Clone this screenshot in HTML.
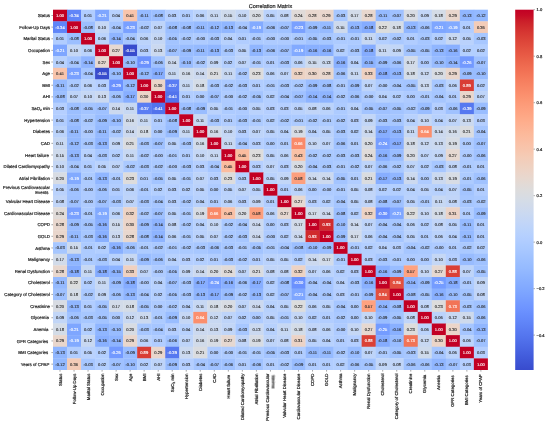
<!DOCTYPE html>
<html lang="en"><head><meta charset="utf-8"><title>Correlation Matrix</title>
<style>html,body{margin:0;padding:0;background:#fff}body{width:550px;height:425px;overflow:hidden}svg{display:block}text{font-family:"Liberation Sans",sans-serif;text-rendering:geometricPrecision;paint-order:stroke}.k{fill:#262626;stroke:#262626}.w{fill:#fff;stroke:#fff}</style>
</head><body>
<svg width="550" height="425" viewBox="0 0 5500 4250">
<rect width="5500" height="4250" fill="#ffffff"/>
<defs><filter id="bl" x="0" y="0" width="5500" height="4250" filterUnits="userSpaceOnUse"><feGaussianBlur stdDeviation="3"/></filter><filter id="bl2" x="0" y="0" width="5500" height="4250" filterUnits="userSpaceOnUse"><feGaussianBlur stdDeviation="2.5"/></filter></defs>
<text class="k" x="2704.5" y="76" font-size="55" stroke-width="2" text-anchor="middle">Correlation Matrix</text>
<g>
<rect x="530" y="97" width="143.3" height="119.2" fill="#c20024"/>
<rect x="670.3" y="97" width="143.3" height="119.2" fill="#6085f8"/>
<rect x="810.6" y="97" width="143.3" height="119.2" fill="#b1cdff"/>
<rect x="950.9" y="97" width="143.3" height="119.2" fill="#7ea6ff"/>
<rect x="1091.2" y="97" width="143.3" height="119.2" fill="#b7d1fd"/>
<rect x="1231.5" y="97" width="143.3" height="119.2" fill="#f8c4ab"/>
<rect x="1371.7" y="97" width="143.3" height="119.2" fill="#95baff"/>
<rect x="1512" y="97" width="143.3" height="119.2" fill="#9cbfff"/>
<rect x="1652.3" y="97" width="143.3" height="119.2" fill="#b5cfff"/>
<rect x="1792.6" y="97" width="143.3" height="119.2" fill="#b1cdff"/>
<rect x="1932.9" y="97" width="143.3" height="119.2" fill="#bbd3fb"/>
<rect x="2073.2" y="97" width="143.3" height="119.2" fill="#c7d8f3"/>
<rect x="2213.5" y="97" width="143.3" height="119.2" fill="#cedaec"/>
<rect x="2353.8" y="97" width="143.3" height="119.2" fill="#c5d7f5"/>
<rect x="2494.1" y="97" width="143.3" height="119.2" fill="#d8dce3"/>
<rect x="2634.4" y="97" width="143.3" height="119.2" fill="#bad2fc"/>
<rect x="2774.6" y="97" width="143.3" height="119.2" fill="#c1d5f8"/>
<rect x="2914.9" y="97" width="143.3" height="119.2" fill="#e0dbd9"/>
<rect x="3055.2" y="97" width="143.3" height="119.2" fill="#e8d7ce"/>
<rect x="3195.5" y="97" width="143.3" height="119.2" fill="#e9d6cc"/>
<rect x="3335.8" y="97" width="143.3" height="119.2" fill="#a7c7ff"/>
<rect x="3476.1" y="97" width="143.3" height="119.2" fill="#d2dbe9"/>
<rect x="3616.4" y="97" width="143.3" height="119.2" fill="#e8d7ce"/>
<rect x="3756.7" y="97" width="143.3" height="119.2" fill="#95baff"/>
<rect x="3897" y="97" width="143.3" height="119.2" fill="#9fc1ff"/>
<rect x="4037.3" y="97" width="143.3" height="119.2" fill="#d8dce3"/>
<rect x="4177.5" y="97" width="143.3" height="119.2" fill="#c2d6f7"/>
<rect x="4317.8" y="97" width="143.3" height="119.2" fill="#d4dce7"/>
<rect x="4458.1" y="97" width="143.3" height="119.2" fill="#e9d6cc"/>
<rect x="4598.4" y="97" width="143.3" height="119.2" fill="#90b6ff"/>
<rect x="4738.7" y="97" width="140.3" height="119.2" fill="#93b9ff"/>
<rect x="530" y="213.2" width="143.3" height="119.2" fill="#6085f8"/>
<rect x="670.3" y="213.2" width="143.3" height="119.2" fill="#c20024"/>
<rect x="810.6" y="213.2" width="143.3" height="119.2" fill="#9cbfff"/>
<rect x="950.9" y="213.2" width="143.3" height="119.2" fill="#c5d7f5"/>
<rect x="1091.2" y="213.2" width="143.3" height="119.2" fill="#a6c6ff"/>
<rect x="1231.5" y="213.2" width="143.3" height="119.2" fill="#79a0ff"/>
<rect x="1371.7" y="213.2" width="143.3" height="119.2" fill="#aac9ff"/>
<rect x="1512" y="213.2" width="143.3" height="119.2" fill="#bed4f9"/>
<rect x="1652.3" y="213.2" width="143.3" height="119.2" fill="#9cbfff"/>
<rect x="1792.6" y="213.2" width="143.3" height="119.2" fill="#9cbfff"/>
<rect x="1932.9" y="213.2" width="143.3" height="119.2" fill="#95baff"/>
<rect x="2073.2" y="213.2" width="143.3" height="119.2" fill="#93b9ff"/>
<rect x="2213.5" y="213.2" width="143.3" height="119.2" fill="#90b6ff"/>
<rect x="2353.8" y="213.2" width="143.3" height="119.2" fill="#a6c6ff"/>
<rect x="2494.1" y="213.2" width="143.3" height="119.2" fill="#82aaff"/>
<rect x="2634.4" y="213.2" width="143.3" height="119.2" fill="#a0c2ff"/>
<rect x="2774.6" y="213.2" width="143.3" height="119.2" fill="#9fc1ff"/>
<rect x="2914.9" y="213.2" width="143.3" height="119.2" fill="#79a0ff"/>
<rect x="3055.2" y="213.2" width="143.3" height="119.2" fill="#99bdff"/>
<rect x="3195.5" y="213.2" width="143.3" height="119.2" fill="#95baff"/>
<rect x="3335.8" y="213.2" width="143.3" height="119.2" fill="#cedaec"/>
<rect x="3476.1" y="213.2" width="143.3" height="119.2" fill="#90b6ff"/>
<rect x="3616.4" y="213.2" width="143.3" height="119.2" fill="#85acff"/>
<rect x="3756.7" y="213.2" width="143.3" height="119.2" fill="#dcdddd"/>
<rect x="3897" y="213.2" width="143.3" height="119.2" fill="#d4dce7"/>
<rect x="4037.3" y="213.2" width="143.3" height="119.2" fill="#90b6ff"/>
<rect x="4177.5" y="213.2" width="143.3" height="119.2" fill="#a0c2ff"/>
<rect x="4317.8" y="213.2" width="143.3" height="119.2" fill="#7ea6ff"/>
<rect x="4458.1" y="213.2" width="143.3" height="119.2" fill="#82aaff"/>
<rect x="4598.4" y="213.2" width="143.3" height="119.2" fill="#b1cdff"/>
<rect x="4738.7" y="213.2" width="140.3" height="119.2" fill="#f3ccb8"/>
<rect x="530" y="329.5" width="143.3" height="119.2" fill="#b1cdff"/>
<rect x="670.3" y="329.5" width="143.3" height="119.2" fill="#9cbfff"/>
<rect x="810.6" y="329.5" width="143.3" height="119.2" fill="#c20024"/>
<rect x="950.9" y="329.5" width="143.3" height="119.2" fill="#bbd3fb"/>
<rect x="1091.2" y="329.5" width="143.3" height="119.2" fill="#8eb4ff"/>
<rect x="1231.5" y="329.5" width="143.3" height="119.2" fill="#a6c6ff"/>
<rect x="1371.7" y="329.5" width="143.3" height="119.2" fill="#bbd3fb"/>
<rect x="1512" y="329.5" width="143.3" height="119.2" fill="#c5d7f5"/>
<rect x="1652.3" y="329.5" width="143.3" height="119.2" fill="#a3c4ff"/>
<rect x="1792.6" y="329.5" width="143.3" height="119.2" fill="#aac9ff"/>
<rect x="1932.9" y="329.5" width="143.3" height="119.2" fill="#aecbff"/>
<rect x="2073.2" y="329.5" width="143.3" height="119.2" fill="#a7c7ff"/>
<rect x="2213.5" y="329.5" width="143.3" height="119.2" fill="#b7d1fd"/>
<rect x="2353.8" y="329.5" width="143.3" height="119.2" fill="#b1cdff"/>
<rect x="2494.1" y="329.5" width="143.3" height="119.2" fill="#adcbff"/>
<rect x="2634.4" y="329.5" width="143.3" height="119.2" fill="#aecbff"/>
<rect x="2774.6" y="329.5" width="143.3" height="119.2" fill="#aecbff"/>
<rect x="2914.9" y="329.5" width="143.3" height="119.2" fill="#adcbff"/>
<rect x="3055.2" y="329.5" width="143.3" height="119.2" fill="#a3c4ff"/>
<rect x="3195.5" y="329.5" width="143.3" height="119.2" fill="#a7c7ff"/>
<rect x="3335.8" y="329.5" width="143.3" height="119.2" fill="#adcbff"/>
<rect x="3476.1" y="329.5" width="143.3" height="119.2" fill="#adcbff"/>
<rect x="3616.4" y="329.5" width="143.3" height="119.2" fill="#c7d8f3"/>
<rect x="3756.7" y="329.5" width="143.3" height="119.2" fill="#b3cfff"/>
<rect x="3897" y="329.5" width="143.3" height="119.2" fill="#aac9ff"/>
<rect x="4037.3" y="329.5" width="143.3" height="119.2" fill="#b1cdff"/>
<rect x="4177.5" y="329.5" width="143.3" height="119.2" fill="#a7c7ff"/>
<rect x="4317.8" y="329.5" width="143.3" height="119.2" fill="#b3cfff"/>
<rect x="4458.1" y="329.5" width="143.3" height="119.2" fill="#c8d8f2"/>
<rect x="4598.4" y="329.5" width="143.3" height="119.2" fill="#bad2fc"/>
<rect x="4738.7" y="329.5" width="140.3" height="119.2" fill="#a7c7ff"/>
<rect x="530" y="445.7" width="143.3" height="119.2" fill="#7ea6ff"/>
<rect x="670.3" y="445.7" width="143.3" height="119.2" fill="#c5d7f5"/>
<rect x="810.6" y="445.7" width="143.3" height="119.2" fill="#bbd3fb"/>
<rect x="950.9" y="445.7" width="143.3" height="119.2" fill="#c20024"/>
<rect x="1091.2" y="445.7" width="143.3" height="119.2" fill="#e6d8d1"/>
<rect x="1231.5" y="445.7" width="143.3" height="119.2" fill="#384bcd"/>
<rect x="1371.7" y="445.7" width="143.3" height="119.2" fill="#b5cfff"/>
<rect x="1512" y="445.7" width="143.3" height="119.2" fill="#cbd9f0"/>
<rect x="1652.3" y="445.7" width="143.3" height="119.2" fill="#9fc1ff"/>
<rect x="1792.6" y="445.7" width="143.3" height="119.2" fill="#99bdff"/>
<rect x="1932.9" y="445.7" width="143.3" height="119.2" fill="#95baff"/>
<rect x="2073.2" y="445.7" width="143.3" height="119.2" fill="#90b6ff"/>
<rect x="2213.5" y="445.7" width="143.3" height="119.2" fill="#a7c7ff"/>
<rect x="2353.8" y="445.7" width="143.3" height="119.2" fill="#bad2fc"/>
<rect x="2494.1" y="445.7" width="143.3" height="119.2" fill="#90b6ff"/>
<rect x="2634.4" y="445.7" width="143.3" height="119.2" fill="#a0c2ff"/>
<rect x="2774.6" y="445.7" width="143.3" height="119.2" fill="#9fc1ff"/>
<rect x="2914.9" y="445.7" width="143.3" height="119.2" fill="#82aaff"/>
<rect x="3055.2" y="445.7" width="143.3" height="119.2" fill="#89b0ff"/>
<rect x="3195.5" y="445.7" width="143.3" height="119.2" fill="#89b0ff"/>
<rect x="3335.8" y="445.7" width="143.3" height="119.2" fill="#b3cfff"/>
<rect x="3476.1" y="445.7" width="143.3" height="119.2" fill="#a7c7ff"/>
<rect x="3616.4" y="445.7" width="143.3" height="119.2" fill="#85acff"/>
<rect x="3756.7" y="445.7" width="143.3" height="119.2" fill="#c7d8f3"/>
<rect x="3897" y="445.7" width="143.3" height="119.2" fill="#c2d6f7"/>
<rect x="4037.3" y="445.7" width="143.3" height="119.2" fill="#a3c4ff"/>
<rect x="4177.5" y="445.7" width="143.3" height="119.2" fill="#a3c4ff"/>
<rect x="4317.8" y="445.7" width="143.3" height="119.2" fill="#90b6ff"/>
<rect x="4458.1" y="445.7" width="143.3" height="119.2" fill="#89b0ff"/>
<rect x="4598.4" y="445.7" width="143.3" height="119.2" fill="#b3cfff"/>
<rect x="4738.7" y="445.7" width="140.3" height="119.2" fill="#b3cfff"/>
<rect x="530" y="561.9" width="143.3" height="119.2" fill="#b7d1fd"/>
<rect x="670.3" y="561.9" width="143.3" height="119.2" fill="#a6c6ff"/>
<rect x="810.6" y="561.9" width="143.3" height="119.2" fill="#8eb4ff"/>
<rect x="950.9" y="561.9" width="143.3" height="119.2" fill="#e6d8d1"/>
<rect x="1091.2" y="561.9" width="143.3" height="119.2" fill="#c20024"/>
<rect x="1231.5" y="561.9" width="143.3" height="119.2" fill="#98bcff"/>
<rect x="1371.7" y="561.9" width="143.3" height="119.2" fill="#6b91fe"/>
<rect x="1512" y="561.9" width="143.3" height="119.2" fill="#a0c2ff"/>
<rect x="1652.3" y="561.9" width="143.3" height="119.2" fill="#ccd9ef"/>
<rect x="1792.6" y="561.9" width="143.3" height="119.2" fill="#98bcff"/>
<rect x="1932.9" y="561.9" width="143.3" height="119.2" fill="#aac9ff"/>
<rect x="2073.2" y="561.9" width="143.3" height="119.2" fill="#c2d6f7"/>
<rect x="2213.5" y="561.9" width="143.3" height="119.2" fill="#b3cfff"/>
<rect x="2353.8" y="561.9" width="143.3" height="119.2" fill="#bed4f9"/>
<rect x="2494.1" y="561.9" width="143.3" height="119.2" fill="#adcbff"/>
<rect x="2634.4" y="561.9" width="143.3" height="119.2" fill="#b1cdff"/>
<rect x="2774.6" y="561.9" width="143.3" height="119.2" fill="#a7c7ff"/>
<rect x="2914.9" y="561.9" width="143.3" height="119.2" fill="#bbd3fb"/>
<rect x="3055.2" y="561.9" width="143.3" height="119.2" fill="#cedaec"/>
<rect x="3195.5" y="561.9" width="143.3" height="119.2" fill="#cbd9f0"/>
<rect x="3335.8" y="561.9" width="143.3" height="119.2" fill="#89b0ff"/>
<rect x="3476.1" y="561.9" width="143.3" height="119.2" fill="#b7d1fd"/>
<rect x="3616.4" y="561.9" width="143.3" height="119.2" fill="#8cb3ff"/>
<rect x="3756.7" y="561.9" width="143.3" height="119.2" fill="#99bdff"/>
<rect x="3897" y="561.9" width="143.3" height="119.2" fill="#a0c2ff"/>
<rect x="4037.3" y="561.9" width="143.3" height="119.2" fill="#d2dbe9"/>
<rect x="4177.5" y="561.9" width="143.3" height="119.2" fill="#aecbff"/>
<rect x="4317.8" y="561.9" width="143.3" height="119.2" fill="#98bcff"/>
<rect x="4458.1" y="561.9" width="143.3" height="119.2" fill="#8eb4ff"/>
<rect x="4598.4" y="561.9" width="143.3" height="119.2" fill="#7299ff"/>
<rect x="4738.7" y="561.9" width="140.3" height="119.2" fill="#9fc1ff"/>
<rect x="530" y="678.1" width="143.3" height="119.2" fill="#f8c4ab"/>
<rect x="670.3" y="678.1" width="143.3" height="119.2" fill="#79a0ff"/>
<rect x="810.6" y="678.1" width="143.3" height="119.2" fill="#a6c6ff"/>
<rect x="950.9" y="678.1" width="143.3" height="119.2" fill="#384bcd"/>
<rect x="1091.2" y="678.1" width="143.3" height="119.2" fill="#98bcff"/>
<rect x="1231.5" y="678.1" width="143.3" height="119.2" fill="#c20024"/>
<rect x="1371.7" y="678.1" width="143.3" height="119.2" fill="#93b9ff"/>
<rect x="1512" y="678.1" width="143.3" height="119.2" fill="#87aeff"/>
<rect x="1652.3" y="678.1" width="143.3" height="119.2" fill="#c7d8f3"/>
<rect x="1792.6" y="678.1" width="143.3" height="119.2" fill="#d1dbea"/>
<rect x="1932.9" y="678.1" width="143.3" height="119.2" fill="#ccd9ef"/>
<rect x="2073.2" y="678.1" width="143.3" height="119.2" fill="#dadce0"/>
<rect x="2213.5" y="678.1" width="143.3" height="119.2" fill="#c7d8f3"/>
<rect x="2353.8" y="678.1" width="143.3" height="119.2" fill="#aac9ff"/>
<rect x="2494.1" y="678.1" width="143.3" height="119.2" fill="#dddcdc"/>
<rect x="2634.4" y="678.1" width="143.3" height="119.2" fill="#bbd3fb"/>
<rect x="2774.6" y="678.1" width="143.3" height="119.2" fill="#bed4f9"/>
<rect x="2914.9" y="678.1" width="143.3" height="119.2" fill="#edd3c4"/>
<rect x="3055.2" y="678.1" width="143.3" height="119.2" fill="#ebd5c9"/>
<rect x="3195.5" y="678.1" width="143.3" height="119.2" fill="#e8d7ce"/>
<rect x="3335.8" y="678.1" width="143.3" height="119.2" fill="#a0c2ff"/>
<rect x="3476.1" y="678.1" width="143.3" height="119.2" fill="#c7d8f3"/>
<rect x="3616.4" y="678.1" width="143.3" height="119.2" fill="#efd1c1"/>
<rect x="3756.7" y="678.1" width="143.3" height="119.2" fill="#85acff"/>
<rect x="3897" y="678.1" width="143.3" height="119.2" fill="#90b6ff"/>
<rect x="4037.3" y="678.1" width="143.3" height="119.2" fill="#d4dce7"/>
<rect x="4177.5" y="678.1" width="143.3" height="119.2" fill="#c8d8f2"/>
<rect x="4317.8" y="678.1" width="143.3" height="119.2" fill="#d8dce3"/>
<rect x="4458.1" y="678.1" width="143.3" height="119.2" fill="#e9d6cc"/>
<rect x="4598.4" y="678.1" width="143.3" height="119.2" fill="#99bdff"/>
<rect x="4738.7" y="678.1" width="140.3" height="119.2" fill="#98bcff"/>
<rect x="530" y="794.4" width="143.3" height="119.2" fill="#95baff"/>
<rect x="670.3" y="794.4" width="143.3" height="119.2" fill="#aac9ff"/>
<rect x="810.6" y="794.4" width="143.3" height="119.2" fill="#bbd3fb"/>
<rect x="950.9" y="794.4" width="143.3" height="119.2" fill="#b5cfff"/>
<rect x="1091.2" y="794.4" width="143.3" height="119.2" fill="#6b91fe"/>
<rect x="1231.5" y="794.4" width="143.3" height="119.2" fill="#93b9ff"/>
<rect x="1371.7" y="794.4" width="143.3" height="119.2" fill="#c20024"/>
<rect x="1512" y="794.4" width="143.3" height="119.2" fill="#ebd5c9"/>
<rect x="1652.3" y="794.4" width="143.3" height="119.2" fill="#5a7df3"/>
<rect x="1792.6" y="794.4" width="143.3" height="119.2" fill="#c7d8f3"/>
<rect x="1932.9" y="794.4" width="143.3" height="119.2" fill="#d4dce7"/>
<rect x="2073.2" y="794.4" width="143.3" height="119.2" fill="#a7c7ff"/>
<rect x="2213.5" y="794.4" width="143.3" height="119.2" fill="#aac9ff"/>
<rect x="2353.8" y="794.4" width="143.3" height="119.2" fill="#a7c7ff"/>
<rect x="2494.1" y="794.4" width="143.3" height="119.2" fill="#b1cdff"/>
<rect x="2634.4" y="794.4" width="143.3" height="119.2" fill="#adcbff"/>
<rect x="2774.6" y="794.4" width="143.3" height="119.2" fill="#a7c7ff"/>
<rect x="2914.9" y="794.4" width="143.3" height="119.2" fill="#aac9ff"/>
<rect x="3055.2" y="794.4" width="143.3" height="119.2" fill="#99bdff"/>
<rect x="3195.5" y="794.4" width="143.3" height="119.2" fill="#9cbfff"/>
<rect x="3335.8" y="794.4" width="143.3" height="119.2" fill="#adcbff"/>
<rect x="3476.1" y="794.4" width="143.3" height="119.2" fill="#99bdff"/>
<rect x="3616.4" y="794.4" width="143.3" height="119.2" fill="#bed4f9"/>
<rect x="3756.7" y="794.4" width="143.3" height="119.2" fill="#aecbff"/>
<rect x="3897" y="794.4" width="143.3" height="119.2" fill="#a6c6ff"/>
<rect x="4037.3" y="794.4" width="143.3" height="119.2" fill="#a3c4ff"/>
<rect x="4177.5" y="794.4" width="143.3" height="119.2" fill="#cbd9f0"/>
<rect x="4317.8" y="794.4" width="143.3" height="119.2" fill="#a7c7ff"/>
<rect x="4458.1" y="794.4" width="143.3" height="119.2" fill="#bbd3fb"/>
<rect x="4598.4" y="794.4" width="143.3" height="119.2" fill="#d93d35"/>
<rect x="4738.7" y="794.4" width="140.3" height="119.2" fill="#b3cfff"/>
<rect x="530" y="910.6" width="143.3" height="119.2" fill="#9cbfff"/>
<rect x="670.3" y="910.6" width="143.3" height="119.2" fill="#bed4f9"/>
<rect x="810.6" y="910.6" width="143.3" height="119.2" fill="#c5d7f5"/>
<rect x="950.9" y="910.6" width="143.3" height="119.2" fill="#cbd9f0"/>
<rect x="1091.2" y="910.6" width="143.3" height="119.2" fill="#a0c2ff"/>
<rect x="1231.5" y="910.6" width="143.3" height="119.2" fill="#87aeff"/>
<rect x="1371.7" y="910.6" width="143.3" height="119.2" fill="#ebd5c9"/>
<rect x="1512" y="910.6" width="143.3" height="119.2" fill="#c20024"/>
<rect x="1652.3" y="910.6" width="143.3" height="119.2" fill="#5273ed"/>
<rect x="1792.6" y="910.6" width="143.3" height="119.2" fill="#b1cdff"/>
<rect x="1932.9" y="910.6" width="143.3" height="119.2" fill="#aecbff"/>
<rect x="2073.2" y="910.6" width="143.3" height="119.2" fill="#9fc1ff"/>
<rect x="2213.5" y="910.6" width="143.3" height="119.2" fill="#aecbff"/>
<rect x="2353.8" y="910.6" width="143.3" height="119.2" fill="#aac9ff"/>
<rect x="2494.1" y="910.6" width="143.3" height="119.2" fill="#a3c4ff"/>
<rect x="2634.4" y="910.6" width="143.3" height="119.2" fill="#b3cfff"/>
<rect x="2774.6" y="910.6" width="143.3" height="119.2" fill="#a6c6ff"/>
<rect x="2914.9" y="910.6" width="143.3" height="119.2" fill="#9fc1ff"/>
<rect x="3055.2" y="910.6" width="143.3" height="119.2" fill="#8eb4ff"/>
<rect x="3195.5" y="910.6" width="143.3" height="119.2" fill="#8eb4ff"/>
<rect x="3335.8" y="910.6" width="143.3" height="119.2" fill="#aac9ff"/>
<rect x="3476.1" y="910.6" width="143.3" height="119.2" fill="#a0c2ff"/>
<rect x="3616.4" y="910.6" width="143.3" height="119.2" fill="#aecbff"/>
<rect x="3756.7" y="910.6" width="143.3" height="119.2" fill="#b7d1fd"/>
<rect x="3897" y="910.6" width="143.3" height="119.2" fill="#b3cfff"/>
<rect x="4037.3" y="910.6" width="143.3" height="119.2" fill="#aecbff"/>
<rect x="4177.5" y="910.6" width="143.3" height="119.2" fill="#adcbff"/>
<rect x="4317.8" y="910.6" width="143.3" height="119.2" fill="#a6c6ff"/>
<rect x="4458.1" y="910.6" width="143.3" height="119.2" fill="#b1cdff"/>
<rect x="4598.4" y="910.6" width="143.3" height="119.2" fill="#e9d6cc"/>
<rect x="4738.7" y="910.6" width="140.3" height="119.2" fill="#bed4f9"/>
<rect x="530" y="1026.8" width="143.3" height="119.2" fill="#b5cfff"/>
<rect x="670.3" y="1026.8" width="143.3" height="119.2" fill="#9cbfff"/>
<rect x="810.6" y="1026.8" width="143.3" height="119.2" fill="#a3c4ff"/>
<rect x="950.9" y="1026.8" width="143.3" height="119.2" fill="#9fc1ff"/>
<rect x="1091.2" y="1026.8" width="143.3" height="119.2" fill="#ccd9ef"/>
<rect x="1231.5" y="1026.8" width="143.3" height="119.2" fill="#c7d8f3"/>
<rect x="1371.7" y="1026.8" width="143.3" height="119.2" fill="#5a7df3"/>
<rect x="1512" y="1026.8" width="143.3" height="119.2" fill="#5273ed"/>
<rect x="1652.3" y="1026.8" width="143.3" height="119.2" fill="#c20024"/>
<rect x="1792.6" y="1026.8" width="143.3" height="119.2" fill="#9cbfff"/>
<rect x="1932.9" y="1026.8" width="143.3" height="119.2" fill="#99bdff"/>
<rect x="2073.2" y="1026.8" width="143.3" height="119.2" fill="#bad2fc"/>
<rect x="2213.5" y="1026.8" width="143.3" height="119.2" fill="#adcbff"/>
<rect x="2353.8" y="1026.8" width="143.3" height="119.2" fill="#aecbff"/>
<rect x="2494.1" y="1026.8" width="143.3" height="119.2" fill="#bad2fc"/>
<rect x="2634.4" y="1026.8" width="143.3" height="119.2" fill="#b5cfff"/>
<rect x="2774.6" y="1026.8" width="143.3" height="119.2" fill="#b5cfff"/>
<rect x="2914.9" y="1026.8" width="143.3" height="119.2" fill="#bad2fc"/>
<rect x="3055.2" y="1026.8" width="143.3" height="119.2" fill="#c1d5f8"/>
<rect x="3195.5" y="1026.8" width="143.3" height="119.2" fill="#bbd3fb"/>
<rect x="3335.8" y="1026.8" width="143.3" height="119.2" fill="#adcbff"/>
<rect x="3476.1" y="1026.8" width="143.3" height="119.2" fill="#b7d1fd"/>
<rect x="3616.4" y="1026.8" width="143.3" height="119.2" fill="#a3c4ff"/>
<rect x="3756.7" y="1026.8" width="143.3" height="119.2" fill="#9fc1ff"/>
<rect x="3897" y="1026.8" width="143.3" height="119.2" fill="#a3c4ff"/>
<rect x="4037.3" y="1026.8" width="143.3" height="119.2" fill="#aac9ff"/>
<rect x="4177.5" y="1026.8" width="143.3" height="119.2" fill="#99bdff"/>
<rect x="4317.8" y="1026.8" width="143.3" height="119.2" fill="#b5cfff"/>
<rect x="4458.1" y="1026.8" width="143.3" height="119.2" fill="#a0c2ff"/>
<rect x="4598.4" y="1026.8" width="143.3" height="119.2" fill="#5678f0"/>
<rect x="4738.7" y="1026.8" width="140.3" height="119.2" fill="#99bdff"/>
<rect x="530" y="1143" width="143.3" height="119.2" fill="#b1cdff"/>
<rect x="670.3" y="1143" width="143.3" height="119.2" fill="#9cbfff"/>
<rect x="810.6" y="1143" width="143.3" height="119.2" fill="#aac9ff"/>
<rect x="950.9" y="1143" width="143.3" height="119.2" fill="#99bdff"/>
<rect x="1091.2" y="1143" width="143.3" height="119.2" fill="#98bcff"/>
<rect x="1231.5" y="1143" width="143.3" height="119.2" fill="#d1dbea"/>
<rect x="1371.7" y="1143" width="143.3" height="119.2" fill="#c7d8f3"/>
<rect x="1512" y="1143" width="143.3" height="119.2" fill="#b1cdff"/>
<rect x="1652.3" y="1143" width="143.3" height="119.2" fill="#9cbfff"/>
<rect x="1792.6" y="1143" width="143.3" height="119.2" fill="#c20024"/>
<rect x="1932.9" y="1143" width="143.3" height="119.2" fill="#c7d8f3"/>
<rect x="2073.2" y="1143" width="143.3" height="119.2" fill="#a7c7ff"/>
<rect x="2213.5" y="1143" width="143.3" height="119.2" fill="#b1cdff"/>
<rect x="2353.8" y="1143" width="143.3" height="119.2" fill="#a7c7ff"/>
<rect x="2494.1" y="1143" width="143.3" height="119.2" fill="#adcbff"/>
<rect x="2634.4" y="1143" width="143.3" height="119.2" fill="#b3cfff"/>
<rect x="2774.6" y="1143" width="143.3" height="119.2" fill="#aac9ff"/>
<rect x="2914.9" y="1143" width="143.3" height="119.2" fill="#adcbff"/>
<rect x="3055.2" y="1143" width="143.3" height="119.2" fill="#aac9ff"/>
<rect x="3195.5" y="1143" width="143.3" height="119.2" fill="#adcbff"/>
<rect x="3335.8" y="1143" width="143.3" height="119.2" fill="#aac9ff"/>
<rect x="3476.1" y="1143" width="143.3" height="119.2" fill="#b5cfff"/>
<rect x="3616.4" y="1143" width="143.3" height="119.2" fill="#c2d6f7"/>
<rect x="3756.7" y="1143" width="143.3" height="119.2" fill="#a7c7ff"/>
<rect x="3897" y="1143" width="143.3" height="119.2" fill="#a7c7ff"/>
<rect x="4037.3" y="1143" width="143.3" height="119.2" fill="#b7d1fd"/>
<rect x="4177.5" y="1143" width="143.3" height="119.2" fill="#c5d7f5"/>
<rect x="4317.8" y="1143" width="143.3" height="119.2" fill="#b7d1fd"/>
<rect x="4458.1" y="1143" width="143.3" height="119.2" fill="#bed4f9"/>
<rect x="4598.4" y="1143" width="143.3" height="119.2" fill="#cbd9f0"/>
<rect x="4738.7" y="1143" width="140.3" height="119.2" fill="#b5cfff"/>
<rect x="530" y="1259.3" width="143.3" height="119.2" fill="#bbd3fb"/>
<rect x="670.3" y="1259.3" width="143.3" height="119.2" fill="#95baff"/>
<rect x="810.6" y="1259.3" width="143.3" height="119.2" fill="#aecbff"/>
<rect x="950.9" y="1259.3" width="143.3" height="119.2" fill="#95baff"/>
<rect x="1091.2" y="1259.3" width="143.3" height="119.2" fill="#aac9ff"/>
<rect x="1231.5" y="1259.3" width="143.3" height="119.2" fill="#ccd9ef"/>
<rect x="1371.7" y="1259.3" width="143.3" height="119.2" fill="#d4dce7"/>
<rect x="1512" y="1259.3" width="143.3" height="119.2" fill="#aecbff"/>
<rect x="1652.3" y="1259.3" width="143.3" height="119.2" fill="#99bdff"/>
<rect x="1792.6" y="1259.3" width="143.3" height="119.2" fill="#c7d8f3"/>
<rect x="1932.9" y="1259.3" width="143.3" height="119.2" fill="#c20024"/>
<rect x="2073.2" y="1259.3" width="143.3" height="119.2" fill="#d1dbea"/>
<rect x="2213.5" y="1259.3" width="143.3" height="119.2" fill="#c5d7f5"/>
<rect x="2353.8" y="1259.3" width="143.3" height="119.2" fill="#b5cfff"/>
<rect x="2494.1" y="1259.3" width="143.3" height="119.2" fill="#bed4f9"/>
<rect x="2634.4" y="1259.3" width="143.3" height="119.2" fill="#bad2fc"/>
<rect x="2774.6" y="1259.3" width="143.3" height="119.2" fill="#b7d1fd"/>
<rect x="2914.9" y="1259.3" width="143.3" height="119.2" fill="#d7dce4"/>
<rect x="3055.2" y="1259.3" width="143.3" height="119.2" fill="#b7d1fd"/>
<rect x="3195.5" y="1259.3" width="143.3" height="119.2" fill="#bad2fc"/>
<rect x="3335.8" y="1259.3" width="143.3" height="119.2" fill="#a7c7ff"/>
<rect x="3476.1" y="1259.3" width="143.3" height="119.2" fill="#b3cfff"/>
<rect x="3616.4" y="1259.3" width="143.3" height="119.2" fill="#ccd9ef"/>
<rect x="3756.7" y="1259.3" width="143.3" height="119.2" fill="#87aeff"/>
<rect x="3897" y="1259.3" width="143.3" height="119.2" fill="#90b6ff"/>
<rect x="4037.3" y="1259.3" width="143.3" height="119.2" fill="#c7d8f3"/>
<rect x="4177.5" y="1259.3" width="143.3" height="119.2" fill="#fb8f6d"/>
<rect x="4317.8" y="1259.3" width="143.3" height="119.2" fill="#ccd9ef"/>
<rect x="4458.1" y="1259.3" width="143.3" height="119.2" fill="#d1dbea"/>
<rect x="4598.4" y="1259.3" width="143.3" height="119.2" fill="#dadce0"/>
<rect x="4738.7" y="1259.3" width="140.3" height="119.2" fill="#a6c6ff"/>
<rect x="530" y="1375.5" width="143.3" height="119.2" fill="#c7d8f3"/>
<rect x="670.3" y="1375.5" width="143.3" height="119.2" fill="#93b9ff"/>
<rect x="810.6" y="1375.5" width="143.3" height="119.2" fill="#a7c7ff"/>
<rect x="950.9" y="1375.5" width="143.3" height="119.2" fill="#90b6ff"/>
<rect x="1091.2" y="1375.5" width="143.3" height="119.2" fill="#c2d6f7"/>
<rect x="1231.5" y="1375.5" width="143.3" height="119.2" fill="#dadce0"/>
<rect x="1371.7" y="1375.5" width="143.3" height="119.2" fill="#a7c7ff"/>
<rect x="1512" y="1375.5" width="143.3" height="119.2" fill="#9fc1ff"/>
<rect x="1652.3" y="1375.5" width="143.3" height="119.2" fill="#bad2fc"/>
<rect x="1792.6" y="1375.5" width="143.3" height="119.2" fill="#a7c7ff"/>
<rect x="1932.9" y="1375.5" width="143.3" height="119.2" fill="#d1dbea"/>
<rect x="2073.2" y="1375.5" width="143.3" height="119.2" fill="#c20024"/>
<rect x="2213.5" y="1375.5" width="143.3" height="119.2" fill="#c7d8f3"/>
<rect x="2353.8" y="1375.5" width="143.3" height="119.2" fill="#a6c6ff"/>
<rect x="2494.1" y="1375.5" width="143.3" height="119.2" fill="#b5cfff"/>
<rect x="2634.4" y="1375.5" width="143.3" height="119.2" fill="#aecbff"/>
<rect x="2774.6" y="1375.5" width="143.3" height="119.2" fill="#b1cdff"/>
<rect x="2914.9" y="1375.5" width="143.3" height="119.2" fill="#fa8a68"/>
<rect x="3055.2" y="1375.5" width="143.3" height="119.2" fill="#c5d7f5"/>
<rect x="3195.5" y="1375.5" width="143.3" height="119.2" fill="#bed4f9"/>
<rect x="3335.8" y="1375.5" width="143.3" height="119.2" fill="#a0c2ff"/>
<rect x="3476.1" y="1375.5" width="143.3" height="119.2" fill="#b1cdff"/>
<rect x="3616.4" y="1375.5" width="143.3" height="119.2" fill="#d8dce3"/>
<rect x="3756.7" y="1375.5" width="143.3" height="119.2" fill="#779fff"/>
<rect x="3897" y="1375.5" width="143.3" height="119.2" fill="#87aeff"/>
<rect x="4037.3" y="1375.5" width="143.3" height="119.2" fill="#d4dce7"/>
<rect x="4177.5" y="1375.5" width="143.3" height="119.2" fill="#c8d8f2"/>
<rect x="4317.8" y="1375.5" width="143.3" height="119.2" fill="#cbd9f0"/>
<rect x="4458.1" y="1375.5" width="143.3" height="119.2" fill="#d7dce4"/>
<rect x="4598.4" y="1375.5" width="143.3" height="119.2" fill="#aecbff"/>
<rect x="4738.7" y="1375.5" width="140.3" height="119.2" fill="#9fc1ff"/>
<rect x="530" y="1491.7" width="143.3" height="119.2" fill="#cedaec"/>
<rect x="670.3" y="1491.7" width="143.3" height="119.2" fill="#90b6ff"/>
<rect x="810.6" y="1491.7" width="143.3" height="119.2" fill="#b7d1fd"/>
<rect x="950.9" y="1491.7" width="143.3" height="119.2" fill="#a7c7ff"/>
<rect x="1091.2" y="1491.7" width="143.3" height="119.2" fill="#b3cfff"/>
<rect x="1231.5" y="1491.7" width="143.3" height="119.2" fill="#c7d8f3"/>
<rect x="1371.7" y="1491.7" width="143.3" height="119.2" fill="#aac9ff"/>
<rect x="1512" y="1491.7" width="143.3" height="119.2" fill="#aecbff"/>
<rect x="1652.3" y="1491.7" width="143.3" height="119.2" fill="#adcbff"/>
<rect x="1792.6" y="1491.7" width="143.3" height="119.2" fill="#b1cdff"/>
<rect x="1932.9" y="1491.7" width="143.3" height="119.2" fill="#c5d7f5"/>
<rect x="2073.2" y="1491.7" width="143.3" height="119.2" fill="#c7d8f3"/>
<rect x="2213.5" y="1491.7" width="143.3" height="119.2" fill="#c20024"/>
<rect x="2353.8" y="1491.7" width="143.3" height="119.2" fill="#fbbc9f"/>
<rect x="2494.1" y="1491.7" width="143.3" height="119.2" fill="#dddcdc"/>
<rect x="2634.4" y="1491.7" width="143.3" height="119.2" fill="#bad2fc"/>
<rect x="2774.6" y="1491.7" width="143.3" height="119.2" fill="#bbd3fb"/>
<rect x="2914.9" y="1491.7" width="143.3" height="119.2" fill="#fac1a6"/>
<rect x="3055.2" y="1491.7" width="143.3" height="119.2" fill="#aac9ff"/>
<rect x="3195.5" y="1491.7" width="143.3" height="119.2" fill="#aac9ff"/>
<rect x="3335.8" y="1491.7" width="143.3" height="119.2" fill="#a7c7ff"/>
<rect x="3476.1" y="1491.7" width="143.3" height="119.2" fill="#a7c7ff"/>
<rect x="3616.4" y="1491.7" width="143.3" height="119.2" fill="#e0dbd9"/>
<rect x="3756.7" y="1491.7" width="143.3" height="119.2" fill="#89b0ff"/>
<rect x="3897" y="1491.7" width="143.3" height="119.2" fill="#99bdff"/>
<rect x="4037.3" y="1491.7" width="143.3" height="119.2" fill="#d8dce3"/>
<rect x="4177.5" y="1491.7" width="143.3" height="119.2" fill="#bed4f9"/>
<rect x="4317.8" y="1491.7" width="143.3" height="119.2" fill="#c2d6f7"/>
<rect x="4458.1" y="1491.7" width="143.3" height="119.2" fill="#e6d8d1"/>
<rect x="4598.4" y="1491.7" width="143.3" height="119.2" fill="#aecbff"/>
<rect x="4738.7" y="1491.7" width="140.3" height="119.2" fill="#a0c2ff"/>
<rect x="530" y="1607.9" width="143.3" height="119.2" fill="#c5d7f5"/>
<rect x="670.3" y="1607.9" width="143.3" height="119.2" fill="#a6c6ff"/>
<rect x="810.6" y="1607.9" width="143.3" height="119.2" fill="#b1cdff"/>
<rect x="950.9" y="1607.9" width="143.3" height="119.2" fill="#bad2fc"/>
<rect x="1091.2" y="1607.9" width="143.3" height="119.2" fill="#bed4f9"/>
<rect x="1231.5" y="1607.9" width="143.3" height="119.2" fill="#aac9ff"/>
<rect x="1371.7" y="1607.9" width="143.3" height="119.2" fill="#a7c7ff"/>
<rect x="1512" y="1607.9" width="143.3" height="119.2" fill="#aac9ff"/>
<rect x="1652.3" y="1607.9" width="143.3" height="119.2" fill="#aecbff"/>
<rect x="1792.6" y="1607.9" width="143.3" height="119.2" fill="#a7c7ff"/>
<rect x="1932.9" y="1607.9" width="143.3" height="119.2" fill="#b5cfff"/>
<rect x="2073.2" y="1607.9" width="143.3" height="119.2" fill="#a6c6ff"/>
<rect x="2213.5" y="1607.9" width="143.3" height="119.2" fill="#fbbc9f"/>
<rect x="2353.8" y="1607.9" width="143.3" height="119.2" fill="#c20024"/>
<rect x="2494.1" y="1607.9" width="143.3" height="119.2" fill="#b5cfff"/>
<rect x="2634.4" y="1607.9" width="143.3" height="119.2" fill="#bed4f9"/>
<rect x="2774.6" y="1607.9" width="143.3" height="119.2" fill="#b5cfff"/>
<rect x="2914.9" y="1607.9" width="143.3" height="119.2" fill="#d8dce3"/>
<rect x="3055.2" y="1607.9" width="143.3" height="119.2" fill="#a6c6ff"/>
<rect x="3195.5" y="1607.9" width="143.3" height="119.2" fill="#a7c7ff"/>
<rect x="3335.8" y="1607.9" width="143.3" height="119.2" fill="#adcbff"/>
<rect x="3476.1" y="1607.9" width="143.3" height="119.2" fill="#aac9ff"/>
<rect x="3616.4" y="1607.9" width="143.3" height="119.2" fill="#bed4f9"/>
<rect x="3756.7" y="1607.9" width="143.3" height="119.2" fill="#a0c2ff"/>
<rect x="3897" y="1607.9" width="143.3" height="119.2" fill="#aac9ff"/>
<rect x="4037.3" y="1607.9" width="143.3" height="119.2" fill="#bed4f9"/>
<rect x="4177.5" y="1607.9" width="143.3" height="119.2" fill="#b3cfff"/>
<rect x="4317.8" y="1607.9" width="143.3" height="119.2" fill="#a7c7ff"/>
<rect x="4458.1" y="1607.9" width="143.3" height="119.2" fill="#c1d5f8"/>
<rect x="4598.4" y="1607.9" width="143.3" height="119.2" fill="#adcbff"/>
<rect x="4738.7" y="1607.9" width="140.3" height="119.2" fill="#b1cdff"/>
<rect x="530" y="1724.2" width="143.3" height="119.2" fill="#d8dce3"/>
<rect x="670.3" y="1724.2" width="143.3" height="119.2" fill="#82aaff"/>
<rect x="810.6" y="1724.2" width="143.3" height="119.2" fill="#adcbff"/>
<rect x="950.9" y="1724.2" width="143.3" height="119.2" fill="#90b6ff"/>
<rect x="1091.2" y="1724.2" width="143.3" height="119.2" fill="#adcbff"/>
<rect x="1231.5" y="1724.2" width="143.3" height="119.2" fill="#dddcdc"/>
<rect x="1371.7" y="1724.2" width="143.3" height="119.2" fill="#b1cdff"/>
<rect x="1512" y="1724.2" width="143.3" height="119.2" fill="#a3c4ff"/>
<rect x="1652.3" y="1724.2" width="143.3" height="119.2" fill="#bad2fc"/>
<rect x="1792.6" y="1724.2" width="143.3" height="119.2" fill="#adcbff"/>
<rect x="1932.9" y="1724.2" width="143.3" height="119.2" fill="#bed4f9"/>
<rect x="2073.2" y="1724.2" width="143.3" height="119.2" fill="#b5cfff"/>
<rect x="2213.5" y="1724.2" width="143.3" height="119.2" fill="#dddcdc"/>
<rect x="2353.8" y="1724.2" width="143.3" height="119.2" fill="#b5cfff"/>
<rect x="2494.1" y="1724.2" width="143.3" height="119.2" fill="#c20024"/>
<rect x="2634.4" y="1724.2" width="143.3" height="119.2" fill="#bad2fc"/>
<rect x="2774.6" y="1724.2" width="143.3" height="119.2" fill="#c2d6f7"/>
<rect x="2914.9" y="1724.2" width="143.3" height="119.2" fill="#fd9f7d"/>
<rect x="3055.2" y="1724.2" width="143.3" height="119.2" fill="#ccd9ef"/>
<rect x="3195.5" y="1724.2" width="143.3" height="119.2" fill="#ccd9ef"/>
<rect x="3335.8" y="1724.2" width="143.3" height="119.2" fill="#a3c4ff"/>
<rect x="3476.1" y="1724.2" width="143.3" height="119.2" fill="#b1cdff"/>
<rect x="3616.4" y="1724.2" width="143.3" height="119.2" fill="#dadce0"/>
<rect x="3756.7" y="1724.2" width="143.3" height="119.2" fill="#87aeff"/>
<rect x="3897" y="1724.2" width="143.3" height="119.2" fill="#90b6ff"/>
<rect x="4037.3" y="1724.2" width="143.3" height="119.2" fill="#ccd9ef"/>
<rect x="4177.5" y="1724.2" width="143.3" height="119.2" fill="#aecbff"/>
<rect x="4317.8" y="1724.2" width="143.3" height="119.2" fill="#cbd9f0"/>
<rect x="4458.1" y="1724.2" width="143.3" height="119.2" fill="#d7dce4"/>
<rect x="4598.4" y="1724.2" width="143.3" height="119.2" fill="#adcbff"/>
<rect x="4738.7" y="1724.2" width="140.3" height="119.2" fill="#a0c2ff"/>
<rect x="530" y="1840.4" width="143.3" height="119.2" fill="#bad2fc"/>
<rect x="670.3" y="1840.4" width="143.3" height="119.2" fill="#a0c2ff"/>
<rect x="810.6" y="1840.4" width="143.3" height="119.2" fill="#aecbff"/>
<rect x="950.9" y="1840.4" width="143.3" height="119.2" fill="#a0c2ff"/>
<rect x="1091.2" y="1840.4" width="143.3" height="119.2" fill="#b1cdff"/>
<rect x="1231.5" y="1840.4" width="143.3" height="119.2" fill="#bbd3fb"/>
<rect x="1371.7" y="1840.4" width="143.3" height="119.2" fill="#adcbff"/>
<rect x="1512" y="1840.4" width="143.3" height="119.2" fill="#b3cfff"/>
<rect x="1652.3" y="1840.4" width="143.3" height="119.2" fill="#b5cfff"/>
<rect x="1792.6" y="1840.4" width="143.3" height="119.2" fill="#b3cfff"/>
<rect x="1932.9" y="1840.4" width="143.3" height="119.2" fill="#bad2fc"/>
<rect x="2073.2" y="1840.4" width="143.3" height="119.2" fill="#aecbff"/>
<rect x="2213.5" y="1840.4" width="143.3" height="119.2" fill="#bad2fc"/>
<rect x="2353.8" y="1840.4" width="143.3" height="119.2" fill="#bed4f9"/>
<rect x="2494.1" y="1840.4" width="143.3" height="119.2" fill="#bad2fc"/>
<rect x="2634.4" y="1840.4" width="143.3" height="119.2" fill="#c20024"/>
<rect x="2774.6" y="1840.4" width="143.3" height="119.2" fill="#b1cdff"/>
<rect x="2914.9" y="1840.4" width="143.3" height="119.2" fill="#bbd3fb"/>
<rect x="3055.2" y="1840.4" width="143.3" height="119.2" fill="#aecbff"/>
<rect x="3195.5" y="1840.4" width="143.3" height="119.2" fill="#aecbff"/>
<rect x="3335.8" y="1840.4" width="143.3" height="119.2" fill="#adcbff"/>
<rect x="3476.1" y="1840.4" width="143.3" height="119.2" fill="#bad2fc"/>
<rect x="3616.4" y="1840.4" width="143.3" height="119.2" fill="#c1d5f8"/>
<rect x="3756.7" y="1840.4" width="143.3" height="119.2" fill="#b3cfff"/>
<rect x="3897" y="1840.4" width="143.3" height="119.2" fill="#b3cfff"/>
<rect x="4037.3" y="1840.4" width="143.3" height="119.2" fill="#b7d1fd"/>
<rect x="4177.5" y="1840.4" width="143.3" height="119.2" fill="#bad2fc"/>
<rect x="4317.8" y="1840.4" width="143.3" height="119.2" fill="#b7d1fd"/>
<rect x="4458.1" y="1840.4" width="143.3" height="119.2" fill="#bed4f9"/>
<rect x="4598.4" y="1840.4" width="143.3" height="119.2" fill="#a3c4ff"/>
<rect x="4738.7" y="1840.4" width="140.3" height="119.2" fill="#b1cdff"/>
<rect x="530" y="1956.6" width="143.3" height="119.2" fill="#c1d5f8"/>
<rect x="670.3" y="1956.6" width="143.3" height="119.2" fill="#9fc1ff"/>
<rect x="810.6" y="1956.6" width="143.3" height="119.2" fill="#aecbff"/>
<rect x="950.9" y="1956.6" width="143.3" height="119.2" fill="#9fc1ff"/>
<rect x="1091.2" y="1956.6" width="143.3" height="119.2" fill="#a7c7ff"/>
<rect x="1231.5" y="1956.6" width="143.3" height="119.2" fill="#bed4f9"/>
<rect x="1371.7" y="1956.6" width="143.3" height="119.2" fill="#a7c7ff"/>
<rect x="1512" y="1956.6" width="143.3" height="119.2" fill="#a6c6ff"/>
<rect x="1652.3" y="1956.6" width="143.3" height="119.2" fill="#b5cfff"/>
<rect x="1792.6" y="1956.6" width="143.3" height="119.2" fill="#aac9ff"/>
<rect x="1932.9" y="1956.6" width="143.3" height="119.2" fill="#b7d1fd"/>
<rect x="2073.2" y="1956.6" width="143.3" height="119.2" fill="#b1cdff"/>
<rect x="2213.5" y="1956.6" width="143.3" height="119.2" fill="#bbd3fb"/>
<rect x="2353.8" y="1956.6" width="143.3" height="119.2" fill="#b5cfff"/>
<rect x="2494.1" y="1956.6" width="143.3" height="119.2" fill="#c2d6f7"/>
<rect x="2634.4" y="1956.6" width="143.3" height="119.2" fill="#b1cdff"/>
<rect x="2774.6" y="1956.6" width="143.3" height="119.2" fill="#c20024"/>
<rect x="2914.9" y="1956.6" width="143.3" height="119.2" fill="#e6d8d1"/>
<rect x="3055.2" y="1956.6" width="143.3" height="119.2" fill="#b5cfff"/>
<rect x="3195.5" y="1956.6" width="143.3" height="119.2" fill="#b3cfff"/>
<rect x="3335.8" y="1956.6" width="143.3" height="119.2" fill="#a6c6ff"/>
<rect x="3476.1" y="1956.6" width="143.3" height="119.2" fill="#bad2fc"/>
<rect x="3616.4" y="1956.6" width="143.3" height="119.2" fill="#c1d5f8"/>
<rect x="3756.7" y="1956.6" width="143.3" height="119.2" fill="#9cbfff"/>
<rect x="3897" y="1956.6" width="143.3" height="119.2" fill="#9fc1ff"/>
<rect x="4037.3" y="1956.6" width="143.3" height="119.2" fill="#bad2fc"/>
<rect x="4177.5" y="1956.6" width="143.3" height="119.2" fill="#adcbff"/>
<rect x="4317.8" y="1956.6" width="143.3" height="119.2" fill="#c7d8f3"/>
<rect x="4458.1" y="1956.6" width="143.3" height="119.2" fill="#c1d5f8"/>
<rect x="4598.4" y="1956.6" width="143.3" height="119.2" fill="#a7c7ff"/>
<rect x="4738.7" y="1956.6" width="140.3" height="119.2" fill="#aac9ff"/>
<rect x="530" y="2072.8" width="143.3" height="119.2" fill="#e0dbd9"/>
<rect x="670.3" y="2072.8" width="143.3" height="119.2" fill="#79a0ff"/>
<rect x="810.6" y="2072.8" width="143.3" height="119.2" fill="#adcbff"/>
<rect x="950.9" y="2072.8" width="143.3" height="119.2" fill="#82aaff"/>
<rect x="1091.2" y="2072.8" width="143.3" height="119.2" fill="#bbd3fb"/>
<rect x="1231.5" y="2072.8" width="143.3" height="119.2" fill="#edd3c4"/>
<rect x="1371.7" y="2072.8" width="143.3" height="119.2" fill="#aac9ff"/>
<rect x="1512" y="2072.8" width="143.3" height="119.2" fill="#9fc1ff"/>
<rect x="1652.3" y="2072.8" width="143.3" height="119.2" fill="#bad2fc"/>
<rect x="1792.6" y="2072.8" width="143.3" height="119.2" fill="#adcbff"/>
<rect x="1932.9" y="2072.8" width="143.3" height="119.2" fill="#d7dce4"/>
<rect x="2073.2" y="2072.8" width="143.3" height="119.2" fill="#fa8a68"/>
<rect x="2213.5" y="2072.8" width="143.3" height="119.2" fill="#fac1a6"/>
<rect x="2353.8" y="2072.8" width="143.3" height="119.2" fill="#d8dce3"/>
<rect x="2494.1" y="2072.8" width="143.3" height="119.2" fill="#fd9f7d"/>
<rect x="2634.4" y="2072.8" width="143.3" height="119.2" fill="#bbd3fb"/>
<rect x="2774.6" y="2072.8" width="143.3" height="119.2" fill="#e6d8d1"/>
<rect x="2914.9" y="2072.8" width="143.3" height="119.2" fill="#c20024"/>
<rect x="3055.2" y="2072.8" width="143.3" height="119.2" fill="#d2dbe9"/>
<rect x="3195.5" y="2072.8" width="143.3" height="119.2" fill="#ccd9ef"/>
<rect x="3335.8" y="2072.8" width="143.3" height="119.2" fill="#9cbfff"/>
<rect x="3476.1" y="2072.8" width="143.3" height="119.2" fill="#b3cfff"/>
<rect x="3616.4" y="2072.8" width="143.3" height="119.2" fill="#edd3c4"/>
<rect x="3756.7" y="2072.8" width="143.3" height="119.2" fill="#6a90fe"/>
<rect x="3897" y="2072.8" width="143.3" height="119.2" fill="#7ea6ff"/>
<rect x="4037.3" y="2072.8" width="143.3" height="119.2" fill="#dcdddd"/>
<rect x="4177.5" y="2072.8" width="143.3" height="119.2" fill="#c5d7f5"/>
<rect x="4317.8" y="2072.8" width="143.3" height="119.2" fill="#d4dce7"/>
<rect x="4458.1" y="2072.8" width="143.3" height="119.2" fill="#ecd3c6"/>
<rect x="4598.4" y="2072.8" width="143.3" height="119.2" fill="#b1cdff"/>
<rect x="4738.7" y="2072.8" width="140.3" height="119.2" fill="#99bdff"/>
<rect x="530" y="2189.1" width="143.3" height="119.2" fill="#e8d7ce"/>
<rect x="670.3" y="2189.1" width="143.3" height="119.2" fill="#99bdff"/>
<rect x="810.6" y="2189.1" width="143.3" height="119.2" fill="#a3c4ff"/>
<rect x="950.9" y="2189.1" width="143.3" height="119.2" fill="#89b0ff"/>
<rect x="1091.2" y="2189.1" width="143.3" height="119.2" fill="#cedaec"/>
<rect x="1231.5" y="2189.1" width="143.3" height="119.2" fill="#ebd5c9"/>
<rect x="1371.7" y="2189.1" width="143.3" height="119.2" fill="#99bdff"/>
<rect x="1512" y="2189.1" width="143.3" height="119.2" fill="#8eb4ff"/>
<rect x="1652.3" y="2189.1" width="143.3" height="119.2" fill="#c1d5f8"/>
<rect x="1792.6" y="2189.1" width="143.3" height="119.2" fill="#aac9ff"/>
<rect x="1932.9" y="2189.1" width="143.3" height="119.2" fill="#b7d1fd"/>
<rect x="2073.2" y="2189.1" width="143.3" height="119.2" fill="#c5d7f5"/>
<rect x="2213.5" y="2189.1" width="143.3" height="119.2" fill="#aac9ff"/>
<rect x="2353.8" y="2189.1" width="143.3" height="119.2" fill="#a6c6ff"/>
<rect x="2494.1" y="2189.1" width="143.3" height="119.2" fill="#ccd9ef"/>
<rect x="2634.4" y="2189.1" width="143.3" height="119.2" fill="#aecbff"/>
<rect x="2774.6" y="2189.1" width="143.3" height="119.2" fill="#b5cfff"/>
<rect x="2914.9" y="2189.1" width="143.3" height="119.2" fill="#d2dbe9"/>
<rect x="3055.2" y="2189.1" width="143.3" height="119.2" fill="#c20024"/>
<rect x="3195.5" y="2189.1" width="143.3" height="119.2" fill="#d02b2d"/>
<rect x="3335.8" y="2189.1" width="143.3" height="119.2" fill="#98bcff"/>
<rect x="3476.1" y="2189.1" width="143.3" height="119.2" fill="#ccd9ef"/>
<rect x="3616.4" y="2189.1" width="143.3" height="119.2" fill="#bed4f9"/>
<rect x="3756.7" y="2189.1" width="143.3" height="119.2" fill="#a6c6ff"/>
<rect x="3897" y="2189.1" width="143.3" height="119.2" fill="#a6c6ff"/>
<rect x="4037.3" y="2189.1" width="143.3" height="119.2" fill="#bbd3fb"/>
<rect x="4177.5" y="2189.1" width="143.3" height="119.2" fill="#b3cfff"/>
<rect x="4317.8" y="2189.1" width="143.3" height="119.2" fill="#c1d5f8"/>
<rect x="4458.1" y="2189.1" width="143.3" height="119.2" fill="#bad2fc"/>
<rect x="4598.4" y="2189.1" width="143.3" height="119.2" fill="#95baff"/>
<rect x="4738.7" y="2189.1" width="140.3" height="119.2" fill="#b1cdff"/>
<rect x="530" y="2305.3" width="143.3" height="119.2" fill="#e9d6cc"/>
<rect x="670.3" y="2305.3" width="143.3" height="119.2" fill="#95baff"/>
<rect x="810.6" y="2305.3" width="143.3" height="119.2" fill="#a7c7ff"/>
<rect x="950.9" y="2305.3" width="143.3" height="119.2" fill="#89b0ff"/>
<rect x="1091.2" y="2305.3" width="143.3" height="119.2" fill="#cbd9f0"/>
<rect x="1231.5" y="2305.3" width="143.3" height="119.2" fill="#e8d7ce"/>
<rect x="1371.7" y="2305.3" width="143.3" height="119.2" fill="#9cbfff"/>
<rect x="1512" y="2305.3" width="143.3" height="119.2" fill="#8eb4ff"/>
<rect x="1652.3" y="2305.3" width="143.3" height="119.2" fill="#bbd3fb"/>
<rect x="1792.6" y="2305.3" width="143.3" height="119.2" fill="#adcbff"/>
<rect x="1932.9" y="2305.3" width="143.3" height="119.2" fill="#bad2fc"/>
<rect x="2073.2" y="2305.3" width="143.3" height="119.2" fill="#bed4f9"/>
<rect x="2213.5" y="2305.3" width="143.3" height="119.2" fill="#aac9ff"/>
<rect x="2353.8" y="2305.3" width="143.3" height="119.2" fill="#a7c7ff"/>
<rect x="2494.1" y="2305.3" width="143.3" height="119.2" fill="#ccd9ef"/>
<rect x="2634.4" y="2305.3" width="143.3" height="119.2" fill="#aecbff"/>
<rect x="2774.6" y="2305.3" width="143.3" height="119.2" fill="#b3cfff"/>
<rect x="2914.9" y="2305.3" width="143.3" height="119.2" fill="#ccd9ef"/>
<rect x="3055.2" y="2305.3" width="143.3" height="119.2" fill="#d02b2d"/>
<rect x="3195.5" y="2305.3" width="143.3" height="119.2" fill="#c20024"/>
<rect x="3335.8" y="2305.3" width="143.3" height="119.2" fill="#99bdff"/>
<rect x="3476.1" y="2305.3" width="143.3" height="119.2" fill="#d2dbe9"/>
<rect x="3616.4" y="2305.3" width="143.3" height="119.2" fill="#bbd3fb"/>
<rect x="3756.7" y="2305.3" width="143.3" height="119.2" fill="#a6c6ff"/>
<rect x="3897" y="2305.3" width="143.3" height="119.2" fill="#a6c6ff"/>
<rect x="4037.3" y="2305.3" width="143.3" height="119.2" fill="#bad2fc"/>
<rect x="4177.5" y="2305.3" width="143.3" height="119.2" fill="#b1cdff"/>
<rect x="4317.8" y="2305.3" width="143.3" height="119.2" fill="#bbd3fb"/>
<rect x="4458.1" y="2305.3" width="143.3" height="119.2" fill="#b7d1fd"/>
<rect x="4598.4" y="2305.3" width="143.3" height="119.2" fill="#95baff"/>
<rect x="4738.7" y="2305.3" width="140.3" height="119.2" fill="#b1cdff"/>
<rect x="530" y="2421.5" width="143.3" height="119.2" fill="#a7c7ff"/>
<rect x="670.3" y="2421.5" width="143.3" height="119.2" fill="#cedaec"/>
<rect x="810.6" y="2421.5" width="143.3" height="119.2" fill="#adcbff"/>
<rect x="950.9" y="2421.5" width="143.3" height="119.2" fill="#b3cfff"/>
<rect x="1091.2" y="2421.5" width="143.3" height="119.2" fill="#89b0ff"/>
<rect x="1231.5" y="2421.5" width="143.3" height="119.2" fill="#a0c2ff"/>
<rect x="1371.7" y="2421.5" width="143.3" height="119.2" fill="#adcbff"/>
<rect x="1512" y="2421.5" width="143.3" height="119.2" fill="#aac9ff"/>
<rect x="1652.3" y="2421.5" width="143.3" height="119.2" fill="#adcbff"/>
<rect x="1792.6" y="2421.5" width="143.3" height="119.2" fill="#aac9ff"/>
<rect x="1932.9" y="2421.5" width="143.3" height="119.2" fill="#a7c7ff"/>
<rect x="2073.2" y="2421.5" width="143.3" height="119.2" fill="#a0c2ff"/>
<rect x="2213.5" y="2421.5" width="143.3" height="119.2" fill="#a7c7ff"/>
<rect x="2353.8" y="2421.5" width="143.3" height="119.2" fill="#adcbff"/>
<rect x="2494.1" y="2421.5" width="143.3" height="119.2" fill="#a3c4ff"/>
<rect x="2634.4" y="2421.5" width="143.3" height="119.2" fill="#adcbff"/>
<rect x="2774.6" y="2421.5" width="143.3" height="119.2" fill="#a6c6ff"/>
<rect x="2914.9" y="2421.5" width="143.3" height="119.2" fill="#9cbfff"/>
<rect x="3055.2" y="2421.5" width="143.3" height="119.2" fill="#98bcff"/>
<rect x="3195.5" y="2421.5" width="143.3" height="119.2" fill="#99bdff"/>
<rect x="3335.8" y="2421.5" width="143.3" height="119.2" fill="#c20024"/>
<rect x="3476.1" y="2421.5" width="143.3" height="119.2" fill="#adcbff"/>
<rect x="3616.4" y="2421.5" width="143.3" height="119.2" fill="#b3cfff"/>
<rect x="3756.7" y="2421.5" width="143.3" height="119.2" fill="#b7d1fd"/>
<rect x="3897" y="2421.5" width="143.3" height="119.2" fill="#b5cfff"/>
<rect x="4037.3" y="2421.5" width="143.3" height="119.2" fill="#a6c6ff"/>
<rect x="4177.5" y="2421.5" width="143.3" height="119.2" fill="#aac9ff"/>
<rect x="4317.8" y="2421.5" width="143.3" height="119.2" fill="#aecbff"/>
<rect x="4458.1" y="2421.5" width="143.3" height="119.2" fill="#b1cdff"/>
<rect x="4598.4" y="2421.5" width="143.3" height="119.2" fill="#aac9ff"/>
<rect x="4738.7" y="2421.5" width="140.3" height="119.2" fill="#b3cfff"/>
<rect x="530" y="2537.7" width="143.3" height="119.2" fill="#d2dbe9"/>
<rect x="670.3" y="2537.7" width="143.3" height="119.2" fill="#90b6ff"/>
<rect x="810.6" y="2537.7" width="143.3" height="119.2" fill="#adcbff"/>
<rect x="950.9" y="2537.7" width="143.3" height="119.2" fill="#a7c7ff"/>
<rect x="1091.2" y="2537.7" width="143.3" height="119.2" fill="#b7d1fd"/>
<rect x="1231.5" y="2537.7" width="143.3" height="119.2" fill="#c7d8f3"/>
<rect x="1371.7" y="2537.7" width="143.3" height="119.2" fill="#99bdff"/>
<rect x="1512" y="2537.7" width="143.3" height="119.2" fill="#a0c2ff"/>
<rect x="1652.3" y="2537.7" width="143.3" height="119.2" fill="#b7d1fd"/>
<rect x="1792.6" y="2537.7" width="143.3" height="119.2" fill="#b5cfff"/>
<rect x="1932.9" y="2537.7" width="143.3" height="119.2" fill="#b3cfff"/>
<rect x="2073.2" y="2537.7" width="143.3" height="119.2" fill="#b1cdff"/>
<rect x="2213.5" y="2537.7" width="143.3" height="119.2" fill="#a7c7ff"/>
<rect x="2353.8" y="2537.7" width="143.3" height="119.2" fill="#aac9ff"/>
<rect x="2494.1" y="2537.7" width="143.3" height="119.2" fill="#b1cdff"/>
<rect x="2634.4" y="2537.7" width="143.3" height="119.2" fill="#bad2fc"/>
<rect x="2774.6" y="2537.7" width="143.3" height="119.2" fill="#bad2fc"/>
<rect x="2914.9" y="2537.7" width="143.3" height="119.2" fill="#b3cfff"/>
<rect x="3055.2" y="2537.7" width="143.3" height="119.2" fill="#ccd9ef"/>
<rect x="3195.5" y="2537.7" width="143.3" height="119.2" fill="#d2dbe9"/>
<rect x="3335.8" y="2537.7" width="143.3" height="119.2" fill="#adcbff"/>
<rect x="3476.1" y="2537.7" width="143.3" height="119.2" fill="#c20024"/>
<rect x="3616.4" y="2537.7" width="143.3" height="119.2" fill="#b5cfff"/>
<rect x="3756.7" y="2537.7" width="143.3" height="119.2" fill="#a7c7ff"/>
<rect x="3897" y="2537.7" width="143.3" height="119.2" fill="#adcbff"/>
<rect x="4037.3" y="2537.7" width="143.3" height="119.2" fill="#aecbff"/>
<rect x="4177.5" y="2537.7" width="143.3" height="119.2" fill="#aecbff"/>
<rect x="4317.8" y="2537.7" width="143.3" height="119.2" fill="#c5d7f5"/>
<rect x="4458.1" y="2537.7" width="143.3" height="119.2" fill="#b5cfff"/>
<rect x="4598.4" y="2537.7" width="143.3" height="119.2" fill="#98bcff"/>
<rect x="4738.7" y="2537.7" width="140.3" height="119.2" fill="#a0c2ff"/>
<rect x="530" y="2654" width="143.3" height="119.2" fill="#e8d7ce"/>
<rect x="670.3" y="2654" width="143.3" height="119.2" fill="#85acff"/>
<rect x="810.6" y="2654" width="143.3" height="119.2" fill="#c7d8f3"/>
<rect x="950.9" y="2654" width="143.3" height="119.2" fill="#85acff"/>
<rect x="1091.2" y="2654" width="143.3" height="119.2" fill="#8cb3ff"/>
<rect x="1231.5" y="2654" width="143.3" height="119.2" fill="#efd1c1"/>
<rect x="1371.7" y="2654" width="143.3" height="119.2" fill="#bed4f9"/>
<rect x="1512" y="2654" width="143.3" height="119.2" fill="#aecbff"/>
<rect x="1652.3" y="2654" width="143.3" height="119.2" fill="#a3c4ff"/>
<rect x="1792.6" y="2654" width="143.3" height="119.2" fill="#c2d6f7"/>
<rect x="1932.9" y="2654" width="143.3" height="119.2" fill="#ccd9ef"/>
<rect x="2073.2" y="2654" width="143.3" height="119.2" fill="#d8dce3"/>
<rect x="2213.5" y="2654" width="143.3" height="119.2" fill="#e0dbd9"/>
<rect x="2353.8" y="2654" width="143.3" height="119.2" fill="#bed4f9"/>
<rect x="2494.1" y="2654" width="143.3" height="119.2" fill="#dadce0"/>
<rect x="2634.4" y="2654" width="143.3" height="119.2" fill="#c1d5f8"/>
<rect x="2774.6" y="2654" width="143.3" height="119.2" fill="#c1d5f8"/>
<rect x="2914.9" y="2654" width="143.3" height="119.2" fill="#edd3c4"/>
<rect x="3055.2" y="2654" width="143.3" height="119.2" fill="#bed4f9"/>
<rect x="3195.5" y="2654" width="143.3" height="119.2" fill="#bbd3fb"/>
<rect x="3335.8" y="2654" width="143.3" height="119.2" fill="#b3cfff"/>
<rect x="3476.1" y="2654" width="143.3" height="119.2" fill="#b5cfff"/>
<rect x="3616.4" y="2654" width="143.3" height="119.2" fill="#c20024"/>
<rect x="3756.7" y="2654" width="143.3" height="119.2" fill="#89b0ff"/>
<rect x="3897" y="2654" width="143.3" height="119.2" fill="#99bdff"/>
<rect x="4037.3" y="2654" width="143.3" height="119.2" fill="#fea280"/>
<rect x="4177.5" y="2654" width="143.3" height="119.2" fill="#c5d7f5"/>
<rect x="4317.8" y="2654" width="143.3" height="119.2" fill="#e6d8d1"/>
<rect x="4458.1" y="2654" width="143.3" height="119.2" fill="#da4036"/>
<rect x="4598.4" y="2654" width="143.3" height="119.2" fill="#bed4f9"/>
<rect x="4738.7" y="2654" width="140.3" height="119.2" fill="#a3c4ff"/>
<rect x="530" y="2770.2" width="143.3" height="119.2" fill="#95baff"/>
<rect x="670.3" y="2770.2" width="143.3" height="119.2" fill="#dcdddd"/>
<rect x="810.6" y="2770.2" width="143.3" height="119.2" fill="#b3cfff"/>
<rect x="950.9" y="2770.2" width="143.3" height="119.2" fill="#c7d8f3"/>
<rect x="1091.2" y="2770.2" width="143.3" height="119.2" fill="#99bdff"/>
<rect x="1231.5" y="2770.2" width="143.3" height="119.2" fill="#85acff"/>
<rect x="1371.7" y="2770.2" width="143.3" height="119.2" fill="#aecbff"/>
<rect x="1512" y="2770.2" width="143.3" height="119.2" fill="#b7d1fd"/>
<rect x="1652.3" y="2770.2" width="143.3" height="119.2" fill="#9fc1ff"/>
<rect x="1792.6" y="2770.2" width="143.3" height="119.2" fill="#a7c7ff"/>
<rect x="1932.9" y="2770.2" width="143.3" height="119.2" fill="#87aeff"/>
<rect x="2073.2" y="2770.2" width="143.3" height="119.2" fill="#779fff"/>
<rect x="2213.5" y="2770.2" width="143.3" height="119.2" fill="#89b0ff"/>
<rect x="2353.8" y="2770.2" width="143.3" height="119.2" fill="#a0c2ff"/>
<rect x="2494.1" y="2770.2" width="143.3" height="119.2" fill="#87aeff"/>
<rect x="2634.4" y="2770.2" width="143.3" height="119.2" fill="#b3cfff"/>
<rect x="2774.6" y="2770.2" width="143.3" height="119.2" fill="#9cbfff"/>
<rect x="2914.9" y="2770.2" width="143.3" height="119.2" fill="#6a90fe"/>
<rect x="3055.2" y="2770.2" width="143.3" height="119.2" fill="#a6c6ff"/>
<rect x="3195.5" y="2770.2" width="143.3" height="119.2" fill="#a6c6ff"/>
<rect x="3335.8" y="2770.2" width="143.3" height="119.2" fill="#b7d1fd"/>
<rect x="3476.1" y="2770.2" width="143.3" height="119.2" fill="#a7c7ff"/>
<rect x="3616.4" y="2770.2" width="143.3" height="119.2" fill="#89b0ff"/>
<rect x="3756.7" y="2770.2" width="143.3" height="119.2" fill="#c20024"/>
<rect x="3897" y="2770.2" width="143.3" height="119.2" fill="#e2503f"/>
<rect x="4037.3" y="2770.2" width="143.3" height="119.2" fill="#8eb4ff"/>
<rect x="4177.5" y="2770.2" width="143.3" height="119.2" fill="#99bdff"/>
<rect x="4317.8" y="2770.2" width="143.3" height="119.2" fill="#749cff"/>
<rect x="4458.1" y="2770.2" width="143.3" height="119.2" fill="#85acff"/>
<rect x="4598.4" y="2770.2" width="143.3" height="119.2" fill="#adcbff"/>
<rect x="4738.7" y="2770.2" width="140.3" height="119.2" fill="#c2d6f7"/>
<rect x="530" y="2886.4" width="143.3" height="119.2" fill="#9fc1ff"/>
<rect x="670.3" y="2886.4" width="143.3" height="119.2" fill="#d4dce7"/>
<rect x="810.6" y="2886.4" width="143.3" height="119.2" fill="#aac9ff"/>
<rect x="950.9" y="2886.4" width="143.3" height="119.2" fill="#c2d6f7"/>
<rect x="1091.2" y="2886.4" width="143.3" height="119.2" fill="#a0c2ff"/>
<rect x="1231.5" y="2886.4" width="143.3" height="119.2" fill="#90b6ff"/>
<rect x="1371.7" y="2886.4" width="143.3" height="119.2" fill="#a6c6ff"/>
<rect x="1512" y="2886.4" width="143.3" height="119.2" fill="#b3cfff"/>
<rect x="1652.3" y="2886.4" width="143.3" height="119.2" fill="#a3c4ff"/>
<rect x="1792.6" y="2886.4" width="143.3" height="119.2" fill="#a7c7ff"/>
<rect x="1932.9" y="2886.4" width="143.3" height="119.2" fill="#90b6ff"/>
<rect x="2073.2" y="2886.4" width="143.3" height="119.2" fill="#87aeff"/>
<rect x="2213.5" y="2886.4" width="143.3" height="119.2" fill="#99bdff"/>
<rect x="2353.8" y="2886.4" width="143.3" height="119.2" fill="#aac9ff"/>
<rect x="2494.1" y="2886.4" width="143.3" height="119.2" fill="#90b6ff"/>
<rect x="2634.4" y="2886.4" width="143.3" height="119.2" fill="#b3cfff"/>
<rect x="2774.6" y="2886.4" width="143.3" height="119.2" fill="#9fc1ff"/>
<rect x="2914.9" y="2886.4" width="143.3" height="119.2" fill="#7ea6ff"/>
<rect x="3055.2" y="2886.4" width="143.3" height="119.2" fill="#a6c6ff"/>
<rect x="3195.5" y="2886.4" width="143.3" height="119.2" fill="#a6c6ff"/>
<rect x="3335.8" y="2886.4" width="143.3" height="119.2" fill="#b5cfff"/>
<rect x="3476.1" y="2886.4" width="143.3" height="119.2" fill="#adcbff"/>
<rect x="3616.4" y="2886.4" width="143.3" height="119.2" fill="#99bdff"/>
<rect x="3756.7" y="2886.4" width="143.3" height="119.2" fill="#e2503f"/>
<rect x="3897" y="2886.4" width="143.3" height="119.2" fill="#c20024"/>
<rect x="4037.3" y="2886.4" width="143.3" height="119.2" fill="#9cbfff"/>
<rect x="4177.5" y="2886.4" width="143.3" height="119.2" fill="#a3c4ff"/>
<rect x="4317.8" y="2886.4" width="143.3" height="119.2" fill="#89b0ff"/>
<rect x="4458.1" y="2886.4" width="143.3" height="119.2" fill="#98bcff"/>
<rect x="4598.4" y="2886.4" width="143.3" height="119.2" fill="#a3c4ff"/>
<rect x="4738.7" y="2886.4" width="140.3" height="119.2" fill="#c1d5f8"/>
<rect x="530" y="3002.6" width="143.3" height="119.2" fill="#d8dce3"/>
<rect x="670.3" y="3002.6" width="143.3" height="119.2" fill="#90b6ff"/>
<rect x="810.6" y="3002.6" width="143.3" height="119.2" fill="#b1cdff"/>
<rect x="950.9" y="3002.6" width="143.3" height="119.2" fill="#a3c4ff"/>
<rect x="1091.2" y="3002.6" width="143.3" height="119.2" fill="#d2dbe9"/>
<rect x="1231.5" y="3002.6" width="143.3" height="119.2" fill="#d4dce7"/>
<rect x="1371.7" y="3002.6" width="143.3" height="119.2" fill="#a3c4ff"/>
<rect x="1512" y="3002.6" width="143.3" height="119.2" fill="#aecbff"/>
<rect x="1652.3" y="3002.6" width="143.3" height="119.2" fill="#aac9ff"/>
<rect x="1792.6" y="3002.6" width="143.3" height="119.2" fill="#b7d1fd"/>
<rect x="1932.9" y="3002.6" width="143.3" height="119.2" fill="#c7d8f3"/>
<rect x="2073.2" y="3002.6" width="143.3" height="119.2" fill="#d4dce7"/>
<rect x="2213.5" y="3002.6" width="143.3" height="119.2" fill="#d8dce3"/>
<rect x="2353.8" y="3002.6" width="143.3" height="119.2" fill="#bed4f9"/>
<rect x="2494.1" y="3002.6" width="143.3" height="119.2" fill="#ccd9ef"/>
<rect x="2634.4" y="3002.6" width="143.3" height="119.2" fill="#b7d1fd"/>
<rect x="2774.6" y="3002.6" width="143.3" height="119.2" fill="#bad2fc"/>
<rect x="2914.9" y="3002.6" width="143.3" height="119.2" fill="#dcdddd"/>
<rect x="3055.2" y="3002.6" width="143.3" height="119.2" fill="#bbd3fb"/>
<rect x="3195.5" y="3002.6" width="143.3" height="119.2" fill="#bad2fc"/>
<rect x="3335.8" y="3002.6" width="143.3" height="119.2" fill="#a6c6ff"/>
<rect x="3476.1" y="3002.6" width="143.3" height="119.2" fill="#aecbff"/>
<rect x="3616.4" y="3002.6" width="143.3" height="119.2" fill="#fea280"/>
<rect x="3756.7" y="3002.6" width="143.3" height="119.2" fill="#8eb4ff"/>
<rect x="3897" y="3002.6" width="143.3" height="119.2" fill="#9cbfff"/>
<rect x="4037.3" y="3002.6" width="143.3" height="119.2" fill="#c20024"/>
<rect x="4177.5" y="3002.6" width="143.3" height="119.2" fill="#c1d5f8"/>
<rect x="4317.8" y="3002.6" width="143.3" height="119.2" fill="#dddcdc"/>
<rect x="4458.1" y="3002.6" width="143.3" height="119.2" fill="#f27457"/>
<rect x="4598.4" y="3002.6" width="143.3" height="119.2" fill="#a7c7ff"/>
<rect x="4738.7" y="3002.6" width="140.3" height="119.2" fill="#a0c2ff"/>
<rect x="530" y="3118.9" width="143.3" height="119.2" fill="#c2d6f7"/>
<rect x="670.3" y="3118.9" width="143.3" height="119.2" fill="#a0c2ff"/>
<rect x="810.6" y="3118.9" width="143.3" height="119.2" fill="#a7c7ff"/>
<rect x="950.9" y="3118.9" width="143.3" height="119.2" fill="#a3c4ff"/>
<rect x="1091.2" y="3118.9" width="143.3" height="119.2" fill="#aecbff"/>
<rect x="1231.5" y="3118.9" width="143.3" height="119.2" fill="#c8d8f2"/>
<rect x="1371.7" y="3118.9" width="143.3" height="119.2" fill="#cbd9f0"/>
<rect x="1512" y="3118.9" width="143.3" height="119.2" fill="#adcbff"/>
<rect x="1652.3" y="3118.9" width="143.3" height="119.2" fill="#99bdff"/>
<rect x="1792.6" y="3118.9" width="143.3" height="119.2" fill="#c5d7f5"/>
<rect x="1932.9" y="3118.9" width="143.3" height="119.2" fill="#fb8f6d"/>
<rect x="2073.2" y="3118.9" width="143.3" height="119.2" fill="#c8d8f2"/>
<rect x="2213.5" y="3118.9" width="143.3" height="119.2" fill="#bed4f9"/>
<rect x="2353.8" y="3118.9" width="143.3" height="119.2" fill="#b3cfff"/>
<rect x="2494.1" y="3118.9" width="143.3" height="119.2" fill="#aecbff"/>
<rect x="2634.4" y="3118.9" width="143.3" height="119.2" fill="#bad2fc"/>
<rect x="2774.6" y="3118.9" width="143.3" height="119.2" fill="#adcbff"/>
<rect x="2914.9" y="3118.9" width="143.3" height="119.2" fill="#c5d7f5"/>
<rect x="3055.2" y="3118.9" width="143.3" height="119.2" fill="#b3cfff"/>
<rect x="3195.5" y="3118.9" width="143.3" height="119.2" fill="#b1cdff"/>
<rect x="3335.8" y="3118.9" width="143.3" height="119.2" fill="#aac9ff"/>
<rect x="3476.1" y="3118.9" width="143.3" height="119.2" fill="#aecbff"/>
<rect x="3616.4" y="3118.9" width="143.3" height="119.2" fill="#c5d7f5"/>
<rect x="3756.7" y="3118.9" width="143.3" height="119.2" fill="#99bdff"/>
<rect x="3897" y="3118.9" width="143.3" height="119.2" fill="#a3c4ff"/>
<rect x="4037.3" y="3118.9" width="143.3" height="119.2" fill="#c1d5f8"/>
<rect x="4177.5" y="3118.9" width="143.3" height="119.2" fill="#c20024"/>
<rect x="4317.8" y="3118.9" width="143.3" height="119.2" fill="#bbd3fb"/>
<rect x="4458.1" y="3118.9" width="143.3" height="119.2" fill="#c8d8f2"/>
<rect x="4598.4" y="3118.9" width="143.3" height="119.2" fill="#cedaec"/>
<rect x="4738.7" y="3118.9" width="140.3" height="119.2" fill="#a0c2ff"/>
<rect x="530" y="3235.1" width="143.3" height="119.2" fill="#d4dce7"/>
<rect x="670.3" y="3235.1" width="143.3" height="119.2" fill="#7ea6ff"/>
<rect x="810.6" y="3235.1" width="143.3" height="119.2" fill="#b3cfff"/>
<rect x="950.9" y="3235.1" width="143.3" height="119.2" fill="#90b6ff"/>
<rect x="1091.2" y="3235.1" width="143.3" height="119.2" fill="#98bcff"/>
<rect x="1231.5" y="3235.1" width="143.3" height="119.2" fill="#d8dce3"/>
<rect x="1371.7" y="3235.1" width="143.3" height="119.2" fill="#a7c7ff"/>
<rect x="1512" y="3235.1" width="143.3" height="119.2" fill="#a6c6ff"/>
<rect x="1652.3" y="3235.1" width="143.3" height="119.2" fill="#b5cfff"/>
<rect x="1792.6" y="3235.1" width="143.3" height="119.2" fill="#b7d1fd"/>
<rect x="1932.9" y="3235.1" width="143.3" height="119.2" fill="#ccd9ef"/>
<rect x="2073.2" y="3235.1" width="143.3" height="119.2" fill="#cbd9f0"/>
<rect x="2213.5" y="3235.1" width="143.3" height="119.2" fill="#c2d6f7"/>
<rect x="2353.8" y="3235.1" width="143.3" height="119.2" fill="#a7c7ff"/>
<rect x="2494.1" y="3235.1" width="143.3" height="119.2" fill="#cbd9f0"/>
<rect x="2634.4" y="3235.1" width="143.3" height="119.2" fill="#b7d1fd"/>
<rect x="2774.6" y="3235.1" width="143.3" height="119.2" fill="#c7d8f3"/>
<rect x="2914.9" y="3235.1" width="143.3" height="119.2" fill="#d4dce7"/>
<rect x="3055.2" y="3235.1" width="143.3" height="119.2" fill="#c1d5f8"/>
<rect x="3195.5" y="3235.1" width="143.3" height="119.2" fill="#bbd3fb"/>
<rect x="3335.8" y="3235.1" width="143.3" height="119.2" fill="#aecbff"/>
<rect x="3476.1" y="3235.1" width="143.3" height="119.2" fill="#c5d7f5"/>
<rect x="3616.4" y="3235.1" width="143.3" height="119.2" fill="#e6d8d1"/>
<rect x="3756.7" y="3235.1" width="143.3" height="119.2" fill="#749cff"/>
<rect x="3897" y="3235.1" width="143.3" height="119.2" fill="#89b0ff"/>
<rect x="4037.3" y="3235.1" width="143.3" height="119.2" fill="#dddcdc"/>
<rect x="4177.5" y="3235.1" width="143.3" height="119.2" fill="#bbd3fb"/>
<rect x="4317.8" y="3235.1" width="143.3" height="119.2" fill="#c20024"/>
<rect x="4458.1" y="3235.1" width="143.3" height="119.2" fill="#ebd5c9"/>
<rect x="4598.4" y="3235.1" width="143.3" height="119.2" fill="#a6c6ff"/>
<rect x="4738.7" y="3235.1" width="140.3" height="119.2" fill="#90b6ff"/>
<rect x="530" y="3351.3" width="143.3" height="119.2" fill="#e9d6cc"/>
<rect x="670.3" y="3351.3" width="143.3" height="119.2" fill="#82aaff"/>
<rect x="810.6" y="3351.3" width="143.3" height="119.2" fill="#c8d8f2"/>
<rect x="950.9" y="3351.3" width="143.3" height="119.2" fill="#89b0ff"/>
<rect x="1091.2" y="3351.3" width="143.3" height="119.2" fill="#8eb4ff"/>
<rect x="1231.5" y="3351.3" width="143.3" height="119.2" fill="#e9d6cc"/>
<rect x="1371.7" y="3351.3" width="143.3" height="119.2" fill="#bbd3fb"/>
<rect x="1512" y="3351.3" width="143.3" height="119.2" fill="#b1cdff"/>
<rect x="1652.3" y="3351.3" width="143.3" height="119.2" fill="#a0c2ff"/>
<rect x="1792.6" y="3351.3" width="143.3" height="119.2" fill="#bed4f9"/>
<rect x="1932.9" y="3351.3" width="143.3" height="119.2" fill="#d1dbea"/>
<rect x="2073.2" y="3351.3" width="143.3" height="119.2" fill="#d7dce4"/>
<rect x="2213.5" y="3351.3" width="143.3" height="119.2" fill="#e6d8d1"/>
<rect x="2353.8" y="3351.3" width="143.3" height="119.2" fill="#c1d5f8"/>
<rect x="2494.1" y="3351.3" width="143.3" height="119.2" fill="#d7dce4"/>
<rect x="2634.4" y="3351.3" width="143.3" height="119.2" fill="#bed4f9"/>
<rect x="2774.6" y="3351.3" width="143.3" height="119.2" fill="#c1d5f8"/>
<rect x="2914.9" y="3351.3" width="143.3" height="119.2" fill="#ecd3c6"/>
<rect x="3055.2" y="3351.3" width="143.3" height="119.2" fill="#bad2fc"/>
<rect x="3195.5" y="3351.3" width="143.3" height="119.2" fill="#b7d1fd"/>
<rect x="3335.8" y="3351.3" width="143.3" height="119.2" fill="#b1cdff"/>
<rect x="3476.1" y="3351.3" width="143.3" height="119.2" fill="#b5cfff"/>
<rect x="3616.4" y="3351.3" width="143.3" height="119.2" fill="#da4036"/>
<rect x="3756.7" y="3351.3" width="143.3" height="119.2" fill="#85acff"/>
<rect x="3897" y="3351.3" width="143.3" height="119.2" fill="#98bcff"/>
<rect x="4037.3" y="3351.3" width="143.3" height="119.2" fill="#f27457"/>
<rect x="4177.5" y="3351.3" width="143.3" height="119.2" fill="#c8d8f2"/>
<rect x="4317.8" y="3351.3" width="143.3" height="119.2" fill="#ebd5c9"/>
<rect x="4458.1" y="3351.3" width="143.3" height="119.2" fill="#c20024"/>
<rect x="4598.4" y="3351.3" width="143.3" height="119.2" fill="#bbd3fb"/>
<rect x="4738.7" y="3351.3" width="140.3" height="119.2" fill="#9fc1ff"/>
<rect x="530" y="3467.5" width="143.3" height="119.2" fill="#90b6ff"/>
<rect x="670.3" y="3467.5" width="143.3" height="119.2" fill="#b1cdff"/>
<rect x="810.6" y="3467.5" width="143.3" height="119.2" fill="#bad2fc"/>
<rect x="950.9" y="3467.5" width="143.3" height="119.2" fill="#b3cfff"/>
<rect x="1091.2" y="3467.5" width="143.3" height="119.2" fill="#7299ff"/>
<rect x="1231.5" y="3467.5" width="143.3" height="119.2" fill="#99bdff"/>
<rect x="1371.7" y="3467.5" width="143.3" height="119.2" fill="#d93d35"/>
<rect x="1512" y="3467.5" width="143.3" height="119.2" fill="#e9d6cc"/>
<rect x="1652.3" y="3467.5" width="143.3" height="119.2" fill="#5678f0"/>
<rect x="1792.6" y="3467.5" width="143.3" height="119.2" fill="#cbd9f0"/>
<rect x="1932.9" y="3467.5" width="143.3" height="119.2" fill="#dadce0"/>
<rect x="2073.2" y="3467.5" width="143.3" height="119.2" fill="#aecbff"/>
<rect x="2213.5" y="3467.5" width="143.3" height="119.2" fill="#aecbff"/>
<rect x="2353.8" y="3467.5" width="143.3" height="119.2" fill="#adcbff"/>
<rect x="2494.1" y="3467.5" width="143.3" height="119.2" fill="#adcbff"/>
<rect x="2634.4" y="3467.5" width="143.3" height="119.2" fill="#a3c4ff"/>
<rect x="2774.6" y="3467.5" width="143.3" height="119.2" fill="#a7c7ff"/>
<rect x="2914.9" y="3467.5" width="143.3" height="119.2" fill="#b1cdff"/>
<rect x="3055.2" y="3467.5" width="143.3" height="119.2" fill="#95baff"/>
<rect x="3195.5" y="3467.5" width="143.3" height="119.2" fill="#95baff"/>
<rect x="3335.8" y="3467.5" width="143.3" height="119.2" fill="#aac9ff"/>
<rect x="3476.1" y="3467.5" width="143.3" height="119.2" fill="#98bcff"/>
<rect x="3616.4" y="3467.5" width="143.3" height="119.2" fill="#bed4f9"/>
<rect x="3756.7" y="3467.5" width="143.3" height="119.2" fill="#adcbff"/>
<rect x="3897" y="3467.5" width="143.3" height="119.2" fill="#a3c4ff"/>
<rect x="4037.3" y="3467.5" width="143.3" height="119.2" fill="#a7c7ff"/>
<rect x="4177.5" y="3467.5" width="143.3" height="119.2" fill="#cedaec"/>
<rect x="4317.8" y="3467.5" width="143.3" height="119.2" fill="#a6c6ff"/>
<rect x="4458.1" y="3467.5" width="143.3" height="119.2" fill="#bbd3fb"/>
<rect x="4598.4" y="3467.5" width="143.3" height="119.2" fill="#c20024"/>
<rect x="4738.7" y="3467.5" width="140.3" height="119.2" fill="#b5cfff"/>
<rect x="530" y="3583.8" width="143.3" height="116.2" fill="#93b9ff"/>
<rect x="670.3" y="3583.8" width="143.3" height="116.2" fill="#f3ccb8"/>
<rect x="810.6" y="3583.8" width="143.3" height="116.2" fill="#a7c7ff"/>
<rect x="950.9" y="3583.8" width="143.3" height="116.2" fill="#b3cfff"/>
<rect x="1091.2" y="3583.8" width="143.3" height="116.2" fill="#9fc1ff"/>
<rect x="1231.5" y="3583.8" width="143.3" height="116.2" fill="#98bcff"/>
<rect x="1371.7" y="3583.8" width="143.3" height="116.2" fill="#b3cfff"/>
<rect x="1512" y="3583.8" width="143.3" height="116.2" fill="#bed4f9"/>
<rect x="1652.3" y="3583.8" width="143.3" height="116.2" fill="#99bdff"/>
<rect x="1792.6" y="3583.8" width="143.3" height="116.2" fill="#b5cfff"/>
<rect x="1932.9" y="3583.8" width="143.3" height="116.2" fill="#a6c6ff"/>
<rect x="2073.2" y="3583.8" width="143.3" height="116.2" fill="#9fc1ff"/>
<rect x="2213.5" y="3583.8" width="143.3" height="116.2" fill="#a0c2ff"/>
<rect x="2353.8" y="3583.8" width="143.3" height="116.2" fill="#b1cdff"/>
<rect x="2494.1" y="3583.8" width="143.3" height="116.2" fill="#a0c2ff"/>
<rect x="2634.4" y="3583.8" width="143.3" height="116.2" fill="#b1cdff"/>
<rect x="2774.6" y="3583.8" width="143.3" height="116.2" fill="#aac9ff"/>
<rect x="2914.9" y="3583.8" width="143.3" height="116.2" fill="#99bdff"/>
<rect x="3055.2" y="3583.8" width="143.3" height="116.2" fill="#b1cdff"/>
<rect x="3195.5" y="3583.8" width="143.3" height="116.2" fill="#b1cdff"/>
<rect x="3335.8" y="3583.8" width="143.3" height="116.2" fill="#b3cfff"/>
<rect x="3476.1" y="3583.8" width="143.3" height="116.2" fill="#a0c2ff"/>
<rect x="3616.4" y="3583.8" width="143.3" height="116.2" fill="#a3c4ff"/>
<rect x="3756.7" y="3583.8" width="143.3" height="116.2" fill="#c2d6f7"/>
<rect x="3897" y="3583.8" width="143.3" height="116.2" fill="#c1d5f8"/>
<rect x="4037.3" y="3583.8" width="143.3" height="116.2" fill="#a0c2ff"/>
<rect x="4177.5" y="3583.8" width="143.3" height="116.2" fill="#a0c2ff"/>
<rect x="4317.8" y="3583.8" width="143.3" height="116.2" fill="#90b6ff"/>
<rect x="4458.1" y="3583.8" width="143.3" height="116.2" fill="#9fc1ff"/>
<rect x="4598.4" y="3583.8" width="143.3" height="116.2" fill="#b5cfff"/>
<rect x="4738.7" y="3583.8" width="140.3" height="116.2" fill="#c20024"/>
</g>
<g font-size="41" text-anchor="middle" stroke-width="1.2" filter="url(#bl)">
<text class="w" x="600.1" y="170.4">1.00</text>
<text class="w" x="740.4" y="170.4">-0.34</text>
<text class="k" x="880.7" y="170.4">0.01</text>
<text class="w" x="1021" y="170.4">-0.21</text>
<text class="k" x="1161.3" y="170.4">0.04</text>
<text class="k" x="1301.6" y="170.4">0.41</text>
<text class="k" x="1441.9" y="170.4">-0.11</text>
<text class="k" x="1582.2" y="170.4">-0.08</text>
<text class="k" x="1722.5" y="170.4">0.03</text>
<text class="k" x="1862.8" y="170.4">0.01</text>
<text class="k" x="2003" y="170.4">0.06</text>
<text class="k" x="2143.3" y="170.4">0.11</text>
<text class="k" x="2283.6" y="170.4">0.15</text>
<text class="k" x="2423.9" y="170.4">0.10</text>
<text class="k" x="2564.2" y="170.4">0.20</text>
<text class="k" x="2704.5" y="170.4">0.05</text>
<text class="k" x="2844.8" y="170.4">0.08</text>
<text class="k" x="2985.1" y="170.4">0.24</text>
<text class="k" x="3125.4" y="170.4">0.28</text>
<text class="k" x="3265.7" y="170.4">0.29</text>
<text class="k" x="3406" y="170.4">-0.03</text>
<text class="k" x="3546.2" y="170.4">0.17</text>
<text class="k" x="3686.5" y="170.4">0.28</text>
<text class="k" x="3826.8" y="170.4">-0.11</text>
<text class="k" x="3967.1" y="170.4">-0.07</text>
<text class="k" x="4107.4" y="170.4">0.20</text>
<text class="k" x="4247.7" y="170.4">0.09</text>
<text class="k" x="4388" y="170.4">0.18</text>
<text class="k" x="4528.3" y="170.4">0.29</text>
<text class="k" x="4668.6" y="170.4">-0.13</text>
<text class="k" x="4808.9" y="170.4">-0.12</text>
<text class="w" x="600.1" y="286.6">-0.34</text>
<text class="w" x="740.4" y="286.6">1.00</text>
<text class="k" x="880.7" y="286.6">-0.08</text>
<text class="k" x="1021" y="286.6">0.10</text>
<text class="k" x="1161.3" y="286.6">-0.04</text>
<text class="w" x="1301.6" y="286.6">-0.23</text>
<text class="k" x="1441.9" y="286.6">-0.02</text>
<text class="k" x="1582.2" y="286.6">0.07</text>
<text class="k" x="1722.5" y="286.6">-0.08</text>
<text class="k" x="1862.8" y="286.6">-0.08</text>
<text class="k" x="2003" y="286.6">-0.11</text>
<text class="k" x="2143.3" y="286.6">-0.12</text>
<text class="k" x="2283.6" y="286.6">-0.13</text>
<text class="k" x="2423.9" y="286.6">-0.04</text>
<text class="w" x="2564.2" y="286.6">-0.19</text>
<text class="k" x="2704.5" y="286.6">-0.06</text>
<text class="k" x="2844.8" y="286.6">-0.07</text>
<text class="w" x="2985.1" y="286.6">-0.23</text>
<text class="k" x="3125.4" y="286.6">-0.09</text>
<text class="k" x="3265.7" y="286.6">-0.11</text>
<text class="k" x="3406" y="286.6">0.15</text>
<text class="k" x="3546.2" y="286.6">-0.13</text>
<text class="k" x="3686.5" y="286.6">-0.18</text>
<text class="k" x="3826.8" y="286.6">0.22</text>
<text class="k" x="3967.1" y="286.6">0.18</text>
<text class="k" x="4107.4" y="286.6">-0.13</text>
<text class="k" x="4247.7" y="286.6">-0.06</text>
<text class="w" x="4388" y="286.6">-0.21</text>
<text class="w" x="4528.3" y="286.6">-0.19</text>
<text class="k" x="4668.6" y="286.6">0.01</text>
<text class="k" x="4808.9" y="286.6">0.36</text>
<text class="k" x="600.1" y="402.8">0.01</text>
<text class="k" x="740.4" y="402.8">-0.08</text>
<text class="w" x="880.7" y="402.8">1.00</text>
<text class="k" x="1021" y="402.8">0.06</text>
<text class="k" x="1161.3" y="402.8">-0.14</text>
<text class="k" x="1301.6" y="402.8">-0.04</text>
<text class="k" x="1441.9" y="402.8">0.06</text>
<text class="k" x="1582.2" y="402.8">0.10</text>
<text class="k" x="1722.5" y="402.8">-0.05</text>
<text class="k" x="1862.8" y="402.8">-0.02</text>
<text class="k" x="2003" y="402.8">-0.00</text>
<text class="k" x="2143.3" y="402.8">-0.03</text>
<text class="k" x="2283.6" y="402.8">0.04</text>
<text class="k" x="2423.9" y="402.8">0.01</text>
<text class="k" x="2564.2" y="402.8">-0.01</text>
<text class="k" x="2704.5" y="402.8">-0.00</text>
<text class="k" x="2844.8" y="402.8">-0.00</text>
<text class="k" x="2985.1" y="402.8">-0.01</text>
<text class="k" x="3125.4" y="402.8">-0.05</text>
<text class="k" x="3265.7" y="402.8">-0.03</text>
<text class="k" x="3406" y="402.8">-0.01</text>
<text class="k" x="3546.2" y="402.8">-0.01</text>
<text class="k" x="3686.5" y="402.8">0.11</text>
<text class="k" x="3826.8" y="402.8">0.02</text>
<text class="k" x="3967.1" y="402.8">-0.02</text>
<text class="k" x="4107.4" y="402.8">0.01</text>
<text class="k" x="4247.7" y="402.8">-0.03</text>
<text class="k" x="4388" y="402.8">0.02</text>
<text class="k" x="4528.3" y="402.8">0.12</text>
<text class="k" x="4668.6" y="402.8">0.05</text>
<text class="k" x="4808.9" y="402.8">-0.03</text>
<text class="w" x="600.1" y="519.1">-0.21</text>
<text class="k" x="740.4" y="519.1">0.10</text>
<text class="k" x="880.7" y="519.1">0.06</text>
<text class="w" x="1021" y="519.1">1.00</text>
<text class="k" x="1161.3" y="519.1">0.27</text>
<text class="w" x="1301.6" y="519.1">-0.55</text>
<text class="k" x="1441.9" y="519.1">0.03</text>
<text class="k" x="1582.2" y="519.1">0.13</text>
<text class="k" x="1722.5" y="519.1">-0.07</text>
<text class="k" x="1862.8" y="519.1">-0.09</text>
<text class="k" x="2003" y="519.1">-0.11</text>
<text class="k" x="2143.3" y="519.1">-0.13</text>
<text class="k" x="2283.6" y="519.1">-0.03</text>
<text class="k" x="2423.9" y="519.1">0.05</text>
<text class="k" x="2564.2" y="519.1">-0.13</text>
<text class="k" x="2704.5" y="519.1">-0.06</text>
<text class="k" x="2844.8" y="519.1">-0.07</text>
<text class="w" x="2985.1" y="519.1">-0.19</text>
<text class="k" x="3125.4" y="519.1">-0.16</text>
<text class="k" x="3265.7" y="519.1">-0.16</text>
<text class="k" x="3406" y="519.1">0.02</text>
<text class="k" x="3546.2" y="519.1">-0.03</text>
<text class="k" x="3686.5" y="519.1">-0.18</text>
<text class="k" x="3826.8" y="519.1">0.11</text>
<text class="k" x="3967.1" y="519.1">0.09</text>
<text class="k" x="4107.4" y="519.1">-0.05</text>
<text class="k" x="4247.7" y="519.1">-0.05</text>
<text class="k" x="4388" y="519.1">-0.13</text>
<text class="k" x="4528.3" y="519.1">-0.16</text>
<text class="k" x="4668.6" y="519.1">0.02</text>
<text class="k" x="4808.9" y="519.1">0.02</text>
<text class="k" x="600.1" y="635.3">0.04</text>
<text class="k" x="740.4" y="635.3">-0.04</text>
<text class="k" x="880.7" y="635.3">-0.14</text>
<text class="k" x="1021" y="635.3">0.27</text>
<text class="w" x="1161.3" y="635.3">1.00</text>
<text class="k" x="1301.6" y="635.3">-0.10</text>
<text class="w" x="1441.9" y="635.3">-0.29</text>
<text class="k" x="1582.2" y="635.3">-0.06</text>
<text class="k" x="1722.5" y="635.3">0.14</text>
<text class="k" x="1862.8" y="635.3">-0.10</text>
<text class="k" x="2003" y="635.3">-0.02</text>
<text class="k" x="2143.3" y="635.3">0.09</text>
<text class="k" x="2283.6" y="635.3">0.02</text>
<text class="k" x="2423.9" y="635.3">0.07</text>
<text class="k" x="2564.2" y="635.3">-0.01</text>
<text class="k" x="2704.5" y="635.3">0.01</text>
<text class="k" x="2844.8" y="635.3">-0.03</text>
<text class="k" x="2985.1" y="635.3">0.06</text>
<text class="k" x="3125.4" y="635.3">0.15</text>
<text class="k" x="3265.7" y="635.3">0.13</text>
<text class="k" x="3406" y="635.3">-0.16</text>
<text class="k" x="3546.2" y="635.3">0.04</text>
<text class="k" x="3686.5" y="635.3">-0.15</text>
<text class="k" x="3826.8" y="635.3">-0.09</text>
<text class="k" x="3967.1" y="635.3">-0.06</text>
<text class="k" x="4107.4" y="635.3">0.17</text>
<text class="k" x="4247.7" y="635.3">0.00</text>
<text class="k" x="4388" y="635.3">-0.10</text>
<text class="k" x="4528.3" y="635.3">-0.14</text>
<text class="w" x="4668.6" y="635.3">-0.26</text>
<text class="k" x="4808.9" y="635.3">-0.07</text>
<text class="k" x="600.1" y="751.5">0.41</text>
<text class="w" x="740.4" y="751.5">-0.23</text>
<text class="k" x="880.7" y="751.5">-0.04</text>
<text class="w" x="1021" y="751.5">-0.55</text>
<text class="k" x="1161.3" y="751.5">-0.10</text>
<text class="w" x="1301.6" y="751.5">1.00</text>
<text class="k" x="1441.9" y="751.5">-0.12</text>
<text class="k" x="1582.2" y="751.5">-0.17</text>
<text class="k" x="1722.5" y="751.5">0.11</text>
<text class="k" x="1862.8" y="751.5">0.16</text>
<text class="k" x="2003" y="751.5">0.14</text>
<text class="k" x="2143.3" y="751.5">0.21</text>
<text class="k" x="2283.6" y="751.5">0.11</text>
<text class="k" x="2423.9" y="751.5">-0.02</text>
<text class="k" x="2564.2" y="751.5">0.23</text>
<text class="k" x="2704.5" y="751.5">0.06</text>
<text class="k" x="2844.8" y="751.5">0.07</text>
<text class="k" x="2985.1" y="751.5">0.32</text>
<text class="k" x="3125.4" y="751.5">0.30</text>
<text class="k" x="3265.7" y="751.5">0.28</text>
<text class="k" x="3406" y="751.5">-0.06</text>
<text class="k" x="3546.2" y="751.5">0.11</text>
<text class="k" x="3686.5" y="751.5">0.33</text>
<text class="k" x="3826.8" y="751.5">-0.18</text>
<text class="k" x="3967.1" y="751.5">-0.13</text>
<text class="k" x="4107.4" y="751.5">0.18</text>
<text class="k" x="4247.7" y="751.5">0.12</text>
<text class="k" x="4388" y="751.5">0.20</text>
<text class="k" x="4528.3" y="751.5">0.29</text>
<text class="k" x="4668.6" y="751.5">-0.09</text>
<text class="k" x="4808.9" y="751.5">-0.10</text>
<text class="k" x="600.1" y="867.7">-0.11</text>
<text class="k" x="740.4" y="867.7">-0.02</text>
<text class="k" x="880.7" y="867.7">0.06</text>
<text class="k" x="1021" y="867.7">0.03</text>
<text class="w" x="1161.3" y="867.7">-0.29</text>
<text class="k" x="1301.6" y="867.7">-0.12</text>
<text class="w" x="1441.9" y="867.7">1.00</text>
<text class="k" x="1582.2" y="867.7">0.30</text>
<text class="w" x="1722.5" y="867.7">-0.37</text>
<text class="k" x="1862.8" y="867.7">0.11</text>
<text class="k" x="2003" y="867.7">0.18</text>
<text class="k" x="2143.3" y="867.7">-0.03</text>
<text class="k" x="2283.6" y="867.7">-0.02</text>
<text class="k" x="2423.9" y="867.7">-0.03</text>
<text class="k" x="2564.2" y="867.7">0.01</text>
<text class="k" x="2704.5" y="867.7">-0.01</text>
<text class="k" x="2844.8" y="867.7">-0.03</text>
<text class="k" x="2985.1" y="867.7">-0.02</text>
<text class="k" x="3125.4" y="867.7">-0.09</text>
<text class="k" x="3265.7" y="867.7">-0.08</text>
<text class="k" x="3406" y="867.7">-0.01</text>
<text class="k" x="3546.2" y="867.7">-0.09</text>
<text class="k" x="3686.5" y="867.7">0.07</text>
<text class="k" x="3826.8" y="867.7">-0.00</text>
<text class="k" x="3967.1" y="867.7">-0.04</text>
<text class="k" x="4107.4" y="867.7">-0.05</text>
<text class="k" x="4247.7" y="867.7">0.13</text>
<text class="k" x="4388" y="867.7">-0.03</text>
<text class="k" x="4528.3" y="867.7">0.06</text>
<text class="w" x="4668.6" y="867.7">0.89</text>
<text class="k" x="4808.9" y="867.7">0.02</text>
<text class="k" x="600.1" y="984">-0.08</text>
<text class="k" x="740.4" y="984">0.07</text>
<text class="k" x="880.7" y="984">0.10</text>
<text class="k" x="1021" y="984">0.13</text>
<text class="k" x="1161.3" y="984">-0.06</text>
<text class="k" x="1301.6" y="984">-0.17</text>
<text class="k" x="1441.9" y="984">0.30</text>
<text class="w" x="1582.2" y="984">1.00</text>
<text class="w" x="1722.5" y="984">-0.41</text>
<text class="k" x="1862.8" y="984">0.01</text>
<text class="k" x="2003" y="984">0.00</text>
<text class="k" x="2143.3" y="984">-0.07</text>
<text class="k" x="2283.6" y="984">-0.00</text>
<text class="k" x="2423.9" y="984">-0.02</text>
<text class="k" x="2564.2" y="984">-0.05</text>
<text class="k" x="2704.5" y="984">0.02</text>
<text class="k" x="2844.8" y="984">-0.04</text>
<text class="k" x="2985.1" y="984">-0.07</text>
<text class="k" x="3125.4" y="984">-0.14</text>
<text class="k" x="3265.7" y="984">-0.14</text>
<text class="k" x="3406" y="984">-0.02</text>
<text class="k" x="3546.2" y="984">-0.06</text>
<text class="k" x="3686.5" y="984">-0.00</text>
<text class="k" x="3826.8" y="984">0.04</text>
<text class="k" x="3967.1" y="984">0.02</text>
<text class="k" x="4107.4" y="984">0.00</text>
<text class="k" x="4247.7" y="984">-0.01</text>
<text class="k" x="4388" y="984">-0.04</text>
<text class="k" x="4528.3" y="984">0.01</text>
<text class="k" x="4668.6" y="984">0.29</text>
<text class="k" x="4808.9" y="984">0.07</text>
<text class="k" x="600.1" y="1100.2">0.03</text>
<text class="k" x="740.4" y="1100.2">-0.08</text>
<text class="k" x="880.7" y="1100.2">-0.05</text>
<text class="k" x="1021" y="1100.2">-0.07</text>
<text class="k" x="1161.3" y="1100.2">0.14</text>
<text class="k" x="1301.6" y="1100.2">0.11</text>
<text class="w" x="1441.9" y="1100.2">-0.37</text>
<text class="w" x="1582.2" y="1100.2">-0.41</text>
<text class="w" x="1722.5" y="1100.2">1.00</text>
<text class="k" x="1862.8" y="1100.2">-0.08</text>
<text class="k" x="2003" y="1100.2">-0.09</text>
<text class="k" x="2143.3" y="1100.2">0.05</text>
<text class="k" x="2283.6" y="1100.2">-0.01</text>
<text class="k" x="2423.9" y="1100.2">-0.00</text>
<text class="k" x="2564.2" y="1100.2">0.05</text>
<text class="k" x="2704.5" y="1100.2">0.03</text>
<text class="k" x="2844.8" y="1100.2">0.03</text>
<text class="k" x="2985.1" y="1100.2">0.05</text>
<text class="k" x="3125.4" y="1100.2">0.08</text>
<text class="k" x="3265.7" y="1100.2">0.06</text>
<text class="k" x="3406" y="1100.2">-0.01</text>
<text class="k" x="3546.2" y="1100.2">0.04</text>
<text class="k" x="3686.5" y="1100.2">-0.05</text>
<text class="k" x="3826.8" y="1100.2">-0.07</text>
<text class="k" x="3967.1" y="1100.2">-0.05</text>
<text class="k" x="4107.4" y="1100.2">-0.02</text>
<text class="k" x="4247.7" y="1100.2">-0.09</text>
<text class="k" x="4388" y="1100.2">0.03</text>
<text class="k" x="4528.3" y="1100.2">-0.06</text>
<text class="w" x="4668.6" y="1100.2">-0.39</text>
<text class="k" x="4808.9" y="1100.2">-0.09</text>
<text class="k" x="600.1" y="1216.4">0.01</text>
<text class="k" x="740.4" y="1216.4">-0.08</text>
<text class="k" x="880.7" y="1216.4">-0.02</text>
<text class="k" x="1021" y="1216.4">-0.09</text>
<text class="k" x="1161.3" y="1216.4">-0.10</text>
<text class="k" x="1301.6" y="1216.4">0.16</text>
<text class="k" x="1441.9" y="1216.4">0.11</text>
<text class="k" x="1582.2" y="1216.4">0.01</text>
<text class="k" x="1722.5" y="1216.4">-0.08</text>
<text class="w" x="1862.8" y="1216.4">1.00</text>
<text class="k" x="2003" y="1216.4">0.11</text>
<text class="k" x="2143.3" y="1216.4">-0.03</text>
<text class="k" x="2283.6" y="1216.4">0.01</text>
<text class="k" x="2423.9" y="1216.4">-0.03</text>
<text class="k" x="2564.2" y="1216.4">-0.01</text>
<text class="k" x="2704.5" y="1216.4">0.02</text>
<text class="k" x="2844.8" y="1216.4">-0.02</text>
<text class="k" x="2985.1" y="1216.4">-0.01</text>
<text class="k" x="3125.4" y="1216.4">-0.02</text>
<text class="k" x="3265.7" y="1216.4">-0.01</text>
<text class="k" x="3406" y="1216.4">-0.02</text>
<text class="k" x="3546.2" y="1216.4">0.03</text>
<text class="k" x="3686.5" y="1216.4">0.09</text>
<text class="k" x="3826.8" y="1216.4">-0.03</text>
<text class="k" x="3967.1" y="1216.4">-0.03</text>
<text class="k" x="4107.4" y="1216.4">0.04</text>
<text class="k" x="4247.7" y="1216.4">0.10</text>
<text class="k" x="4388" y="1216.4">0.04</text>
<text class="k" x="4528.3" y="1216.4">0.07</text>
<text class="k" x="4668.6" y="1216.4">0.13</text>
<text class="k" x="4808.9" y="1216.4">0.03</text>
<text class="k" x="600.1" y="1332.6">0.06</text>
<text class="k" x="740.4" y="1332.6">-0.11</text>
<text class="k" x="880.7" y="1332.6">-0.00</text>
<text class="k" x="1021" y="1332.6">-0.11</text>
<text class="k" x="1161.3" y="1332.6">-0.02</text>
<text class="k" x="1301.6" y="1332.6">0.14</text>
<text class="k" x="1441.9" y="1332.6">0.18</text>
<text class="k" x="1582.2" y="1332.6">0.00</text>
<text class="k" x="1722.5" y="1332.6">-0.09</text>
<text class="k" x="1862.8" y="1332.6">0.11</text>
<text class="w" x="2003" y="1332.6">1.00</text>
<text class="k" x="2143.3" y="1332.6">0.16</text>
<text class="k" x="2283.6" y="1332.6">0.10</text>
<text class="k" x="2423.9" y="1332.6">0.03</text>
<text class="k" x="2564.2" y="1332.6">0.07</text>
<text class="k" x="2704.5" y="1332.6">0.05</text>
<text class="k" x="2844.8" y="1332.6">0.04</text>
<text class="k" x="2985.1" y="1332.6">0.19</text>
<text class="k" x="3125.4" y="1332.6">0.04</text>
<text class="k" x="3265.7" y="1332.6">0.05</text>
<text class="k" x="3406" y="1332.6">-0.03</text>
<text class="k" x="3546.2" y="1332.6">0.02</text>
<text class="k" x="3686.5" y="1332.6">0.14</text>
<text class="k" x="3826.8" y="1332.6">-0.17</text>
<text class="k" x="3967.1" y="1332.6">-0.13</text>
<text class="k" x="4107.4" y="1332.6">0.11</text>
<text class="w" x="4247.7" y="1332.6">0.64</text>
<text class="k" x="4388" y="1332.6">0.14</text>
<text class="k" x="4528.3" y="1332.6">0.16</text>
<text class="k" x="4668.6" y="1332.6">0.21</text>
<text class="k" x="4808.9" y="1332.6">-0.04</text>
<text class="k" x="600.1" y="1448.9">0.11</text>
<text class="k" x="740.4" y="1448.9">-0.12</text>
<text class="k" x="880.7" y="1448.9">-0.03</text>
<text class="k" x="1021" y="1448.9">-0.13</text>
<text class="k" x="1161.3" y="1448.9">0.09</text>
<text class="k" x="1301.6" y="1448.9">0.21</text>
<text class="k" x="1441.9" y="1448.9">-0.03</text>
<text class="k" x="1582.2" y="1448.9">-0.07</text>
<text class="k" x="1722.5" y="1448.9">0.05</text>
<text class="k" x="1862.8" y="1448.9">-0.03</text>
<text class="k" x="2003" y="1448.9">0.16</text>
<text class="w" x="2143.3" y="1448.9">1.00</text>
<text class="k" x="2283.6" y="1448.9">0.11</text>
<text class="k" x="2423.9" y="1448.9">-0.04</text>
<text class="k" x="2564.2" y="1448.9">0.03</text>
<text class="k" x="2704.5" y="1448.9">0.00</text>
<text class="k" x="2844.8" y="1448.9">0.01</text>
<text class="w" x="2985.1" y="1448.9">0.66</text>
<text class="k" x="3125.4" y="1448.9">0.10</text>
<text class="k" x="3265.7" y="1448.9">0.07</text>
<text class="k" x="3406" y="1448.9">-0.06</text>
<text class="k" x="3546.2" y="1448.9">0.01</text>
<text class="k" x="3686.5" y="1448.9">0.20</text>
<text class="w" x="3826.8" y="1448.9">-0.24</text>
<text class="k" x="3967.1" y="1448.9">-0.17</text>
<text class="k" x="4107.4" y="1448.9">0.18</text>
<text class="k" x="4247.7" y="1448.9">0.12</text>
<text class="k" x="4388" y="1448.9">0.13</text>
<text class="k" x="4528.3" y="1448.9">0.19</text>
<text class="k" x="4668.6" y="1448.9">0.00</text>
<text class="k" x="4808.9" y="1448.9">-0.07</text>
<text class="k" x="600.1" y="1565.1">0.15</text>
<text class="k" x="740.4" y="1565.1">-0.13</text>
<text class="k" x="880.7" y="1565.1">0.04</text>
<text class="k" x="1021" y="1565.1">-0.03</text>
<text class="k" x="1161.3" y="1565.1">0.02</text>
<text class="k" x="1301.6" y="1565.1">0.11</text>
<text class="k" x="1441.9" y="1565.1">-0.02</text>
<text class="k" x="1582.2" y="1565.1">-0.00</text>
<text class="k" x="1722.5" y="1565.1">-0.01</text>
<text class="k" x="1862.8" y="1565.1">0.01</text>
<text class="k" x="2003" y="1565.1">0.10</text>
<text class="k" x="2143.3" y="1565.1">0.11</text>
<text class="w" x="2283.6" y="1565.1">1.00</text>
<text class="k" x="2423.9" y="1565.1">0.45</text>
<text class="k" x="2564.2" y="1565.1">0.23</text>
<text class="k" x="2704.5" y="1565.1">0.05</text>
<text class="k" x="2844.8" y="1565.1">0.06</text>
<text class="k" x="2985.1" y="1565.1">0.43</text>
<text class="k" x="3125.4" y="1565.1">-0.02</text>
<text class="k" x="3265.7" y="1565.1">-0.02</text>
<text class="k" x="3406" y="1565.1">-0.03</text>
<text class="k" x="3546.2" y="1565.1">-0.03</text>
<text class="k" x="3686.5" y="1565.1">0.24</text>
<text class="k" x="3826.8" y="1565.1">-0.16</text>
<text class="k" x="3967.1" y="1565.1">-0.09</text>
<text class="k" x="4107.4" y="1565.1">0.20</text>
<text class="k" x="4247.7" y="1565.1">0.07</text>
<text class="k" x="4388" y="1565.1">0.09</text>
<text class="k" x="4528.3" y="1565.1">0.27</text>
<text class="k" x="4668.6" y="1565.1">-0.00</text>
<text class="k" x="4808.9" y="1565.1">-0.06</text>
<text class="k" x="600.1" y="1681.3">0.10</text>
<text class="k" x="740.4" y="1681.3">-0.04</text>
<text class="k" x="880.7" y="1681.3">0.01</text>
<text class="k" x="1021" y="1681.3">0.05</text>
<text class="k" x="1161.3" y="1681.3">0.07</text>
<text class="k" x="1301.6" y="1681.3">-0.02</text>
<text class="k" x="1441.9" y="1681.3">-0.03</text>
<text class="k" x="1582.2" y="1681.3">-0.02</text>
<text class="k" x="1722.5" y="1681.3">-0.00</text>
<text class="k" x="1862.8" y="1681.3">-0.03</text>
<text class="k" x="2003" y="1681.3">0.03</text>
<text class="k" x="2143.3" y="1681.3">-0.04</text>
<text class="k" x="2283.6" y="1681.3">0.45</text>
<text class="w" x="2423.9" y="1681.3">1.00</text>
<text class="k" x="2564.2" y="1681.3">0.03</text>
<text class="k" x="2704.5" y="1681.3">0.07</text>
<text class="k" x="2844.8" y="1681.3">0.03</text>
<text class="k" x="2985.1" y="1681.3">0.20</text>
<text class="k" x="3125.4" y="1681.3">-0.04</text>
<text class="k" x="3265.7" y="1681.3">-0.03</text>
<text class="k" x="3406" y="1681.3">-0.01</text>
<text class="k" x="3546.2" y="1681.3">-0.02</text>
<text class="k" x="3686.5" y="1681.3">0.07</text>
<text class="k" x="3826.8" y="1681.3">-0.06</text>
<text class="k" x="3967.1" y="1681.3">-0.02</text>
<text class="k" x="4107.4" y="1681.3">0.07</text>
<text class="k" x="4247.7" y="1681.3">0.02</text>
<text class="k" x="4388" y="1681.3">-0.03</text>
<text class="k" x="4528.3" y="1681.3">0.08</text>
<text class="k" x="4668.6" y="1681.3">-0.01</text>
<text class="k" x="4808.9" y="1681.3">0.01</text>
<text class="k" x="600.1" y="1797.5">0.20</text>
<text class="w" x="740.4" y="1797.5">-0.19</text>
<text class="k" x="880.7" y="1797.5">-0.01</text>
<text class="k" x="1021" y="1797.5">-0.13</text>
<text class="k" x="1161.3" y="1797.5">-0.01</text>
<text class="k" x="1301.6" y="1797.5">0.23</text>
<text class="k" x="1441.9" y="1797.5">0.01</text>
<text class="k" x="1582.2" y="1797.5">-0.05</text>
<text class="k" x="1722.5" y="1797.5">0.05</text>
<text class="k" x="1862.8" y="1797.5">-0.01</text>
<text class="k" x="2003" y="1797.5">0.07</text>
<text class="k" x="2143.3" y="1797.5">0.03</text>
<text class="k" x="2283.6" y="1797.5">0.23</text>
<text class="k" x="2423.9" y="1797.5">0.03</text>
<text class="w" x="2564.2" y="1797.5">1.00</text>
<text class="k" x="2704.5" y="1797.5">0.05</text>
<text class="k" x="2844.8" y="1797.5">0.09</text>
<text class="k" x="2985.1" y="1797.5">0.58</text>
<text class="k" x="3125.4" y="1797.5">0.14</text>
<text class="k" x="3265.7" y="1797.5">0.14</text>
<text class="k" x="3406" y="1797.5">-0.05</text>
<text class="k" x="3546.2" y="1797.5">0.01</text>
<text class="k" x="3686.5" y="1797.5">0.21</text>
<text class="k" x="3826.8" y="1797.5">-0.17</text>
<text class="k" x="3967.1" y="1797.5">-0.13</text>
<text class="k" x="4107.4" y="1797.5">0.14</text>
<text class="k" x="4247.7" y="1797.5">0.00</text>
<text class="k" x="4388" y="1797.5">0.13</text>
<text class="k" x="4528.3" y="1797.5">0.19</text>
<text class="k" x="4668.6" y="1797.5">-0.01</text>
<text class="k" x="4808.9" y="1797.5">-0.06</text>
<text class="k" x="600.1" y="1913.8">0.05</text>
<text class="k" x="740.4" y="1913.8">-0.06</text>
<text class="k" x="880.7" y="1913.8">-0.00</text>
<text class="k" x="1021" y="1913.8">-0.06</text>
<text class="k" x="1161.3" y="1913.8">0.01</text>
<text class="k" x="1301.6" y="1913.8">0.06</text>
<text class="k" x="1441.9" y="1913.8">-0.01</text>
<text class="k" x="1582.2" y="1913.8">0.02</text>
<text class="k" x="1722.5" y="1913.8">0.03</text>
<text class="k" x="1862.8" y="1913.8">0.02</text>
<text class="k" x="2003" y="1913.8">0.05</text>
<text class="k" x="2143.3" y="1913.8">0.00</text>
<text class="k" x="2283.6" y="1913.8">0.05</text>
<text class="k" x="2423.9" y="1913.8">0.07</text>
<text class="k" x="2564.2" y="1913.8">0.05</text>
<text class="w" x="2704.5" y="1913.8">1.00</text>
<text class="k" x="2844.8" y="1913.8">0.01</text>
<text class="k" x="2985.1" y="1913.8">0.06</text>
<text class="k" x="3125.4" y="1913.8">0.00</text>
<text class="k" x="3265.7" y="1913.8">-0.00</text>
<text class="k" x="3406" y="1913.8">-0.01</text>
<text class="k" x="3546.2" y="1913.8">0.05</text>
<text class="k" x="3686.5" y="1913.8">0.08</text>
<text class="k" x="3826.8" y="1913.8">0.02</text>
<text class="k" x="3967.1" y="1913.8">0.02</text>
<text class="k" x="4107.4" y="1913.8">0.04</text>
<text class="k" x="4247.7" y="1913.8">0.05</text>
<text class="k" x="4388" y="1913.8">0.04</text>
<text class="k" x="4528.3" y="1913.8">0.07</text>
<text class="k" x="4668.6" y="1913.8">-0.05</text>
<text class="k" x="4808.9" y="1913.8">0.01</text>
<text class="k" x="600.1" y="2030">0.08</text>
<text class="k" x="740.4" y="2030">-0.07</text>
<text class="k" x="880.7" y="2030">-0.00</text>
<text class="k" x="1021" y="2030">-0.07</text>
<text class="k" x="1161.3" y="2030">-0.03</text>
<text class="k" x="1301.6" y="2030">0.07</text>
<text class="k" x="1441.9" y="2030">-0.03</text>
<text class="k" x="1582.2" y="2030">-0.04</text>
<text class="k" x="1722.5" y="2030">0.03</text>
<text class="k" x="1862.8" y="2030">-0.02</text>
<text class="k" x="2003" y="2030">0.04</text>
<text class="k" x="2143.3" y="2030">0.01</text>
<text class="k" x="2283.6" y="2030">0.06</text>
<text class="k" x="2423.9" y="2030">0.03</text>
<text class="k" x="2564.2" y="2030">0.09</text>
<text class="k" x="2704.5" y="2030">0.01</text>
<text class="w" x="2844.8" y="2030">1.00</text>
<text class="k" x="2985.1" y="2030">0.27</text>
<text class="k" x="3125.4" y="2030">0.03</text>
<text class="k" x="3265.7" y="2030">0.02</text>
<text class="k" x="3406" y="2030">-0.04</text>
<text class="k" x="3546.2" y="2030">0.05</text>
<text class="k" x="3686.5" y="2030">0.08</text>
<text class="k" x="3826.8" y="2030">-0.08</text>
<text class="k" x="3967.1" y="2030">-0.07</text>
<text class="k" x="4107.4" y="2030">0.05</text>
<text class="k" x="4247.7" y="2030">-0.01</text>
<text class="k" x="4388" y="2030">0.11</text>
<text class="k" x="4528.3" y="2030">0.08</text>
<text class="k" x="4668.6" y="2030">-0.03</text>
<text class="k" x="4808.9" y="2030">-0.02</text>
<text class="k" x="600.1" y="2146.2">0.24</text>
<text class="w" x="740.4" y="2146.2">-0.23</text>
<text class="k" x="880.7" y="2146.2">-0.01</text>
<text class="w" x="1021" y="2146.2">-0.19</text>
<text class="k" x="1161.3" y="2146.2">0.06</text>
<text class="k" x="1301.6" y="2146.2">0.32</text>
<text class="k" x="1441.9" y="2146.2">-0.02</text>
<text class="k" x="1582.2" y="2146.2">-0.07</text>
<text class="k" x="1722.5" y="2146.2">0.05</text>
<text class="k" x="1862.8" y="2146.2">-0.01</text>
<text class="k" x="2003" y="2146.2">0.19</text>
<text class="w" x="2143.3" y="2146.2">0.66</text>
<text class="k" x="2283.6" y="2146.2">0.43</text>
<text class="k" x="2423.9" y="2146.2">0.20</text>
<text class="k" x="2564.2" y="2146.2">0.58</text>
<text class="k" x="2704.5" y="2146.2">0.06</text>
<text class="k" x="2844.8" y="2146.2">0.27</text>
<text class="w" x="2985.1" y="2146.2">1.00</text>
<text class="k" x="3125.4" y="2146.2">0.17</text>
<text class="k" x="3265.7" y="2146.2">0.14</text>
<text class="k" x="3406" y="2146.2">-0.08</text>
<text class="k" x="3546.2" y="2146.2">0.02</text>
<text class="k" x="3686.5" y="2146.2">0.32</text>
<text class="w" x="3826.8" y="2146.2">-0.30</text>
<text class="w" x="3967.1" y="2146.2">-0.21</text>
<text class="k" x="4107.4" y="2146.2">0.22</text>
<text class="k" x="4247.7" y="2146.2">0.10</text>
<text class="k" x="4388" y="2146.2">0.18</text>
<text class="k" x="4528.3" y="2146.2">0.31</text>
<text class="k" x="4668.6" y="2146.2">0.01</text>
<text class="k" x="4808.9" y="2146.2">-0.09</text>
<text class="k" x="600.1" y="2262.4">0.28</text>
<text class="k" x="740.4" y="2262.4">-0.09</text>
<text class="k" x="880.7" y="2262.4">-0.05</text>
<text class="k" x="1021" y="2262.4">-0.16</text>
<text class="k" x="1161.3" y="2262.4">0.15</text>
<text class="k" x="1301.6" y="2262.4">0.30</text>
<text class="k" x="1441.9" y="2262.4">-0.09</text>
<text class="k" x="1582.2" y="2262.4">-0.14</text>
<text class="k" x="1722.5" y="2262.4">0.08</text>
<text class="k" x="1862.8" y="2262.4">-0.02</text>
<text class="k" x="2003" y="2262.4">0.04</text>
<text class="k" x="2143.3" y="2262.4">0.10</text>
<text class="k" x="2283.6" y="2262.4">-0.02</text>
<text class="k" x="2423.9" y="2262.4">-0.04</text>
<text class="k" x="2564.2" y="2262.4">0.14</text>
<text class="k" x="2704.5" y="2262.4">0.00</text>
<text class="k" x="2844.8" y="2262.4">0.03</text>
<text class="k" x="2985.1" y="2262.4">0.17</text>
<text class="w" x="3125.4" y="2262.4">1.00</text>
<text class="w" x="3265.7" y="2262.4">0.93</text>
<text class="k" x="3406" y="2262.4">-0.10</text>
<text class="k" x="3546.2" y="2262.4">0.14</text>
<text class="k" x="3686.5" y="2262.4">0.07</text>
<text class="k" x="3826.8" y="2262.4">-0.04</text>
<text class="k" x="3967.1" y="2262.4">-0.04</text>
<text class="k" x="4107.4" y="2262.4">0.06</text>
<text class="k" x="4247.7" y="2262.4">0.02</text>
<text class="k" x="4388" y="2262.4">0.08</text>
<text class="k" x="4528.3" y="2262.4">0.05</text>
<text class="k" x="4668.6" y="2262.4">-0.11</text>
<text class="k" x="4808.9" y="2262.4">0.01</text>
<text class="k" x="600.1" y="2378.7">0.29</text>
<text class="k" x="740.4" y="2378.7">-0.11</text>
<text class="k" x="880.7" y="2378.7">-0.03</text>
<text class="k" x="1021" y="2378.7">-0.16</text>
<text class="k" x="1161.3" y="2378.7">0.13</text>
<text class="k" x="1301.6" y="2378.7">0.28</text>
<text class="k" x="1441.9" y="2378.7">-0.08</text>
<text class="k" x="1582.2" y="2378.7">-0.14</text>
<text class="k" x="1722.5" y="2378.7">0.06</text>
<text class="k" x="1862.8" y="2378.7">-0.01</text>
<text class="k" x="2003" y="2378.7">0.05</text>
<text class="k" x="2143.3" y="2378.7">0.07</text>
<text class="k" x="2283.6" y="2378.7">-0.02</text>
<text class="k" x="2423.9" y="2378.7">-0.03</text>
<text class="k" x="2564.2" y="2378.7">0.14</text>
<text class="k" x="2704.5" y="2378.7">-0.00</text>
<text class="k" x="2844.8" y="2378.7">0.02</text>
<text class="k" x="2985.1" y="2378.7">0.14</text>
<text class="w" x="3125.4" y="2378.7">0.93</text>
<text class="w" x="3265.7" y="2378.7">1.00</text>
<text class="k" x="3406" y="2378.7">-0.09</text>
<text class="k" x="3546.2" y="2378.7">0.17</text>
<text class="k" x="3686.5" y="2378.7">0.06</text>
<text class="k" x="3826.8" y="2378.7">-0.04</text>
<text class="k" x="3967.1" y="2378.7">-0.04</text>
<text class="k" x="4107.4" y="2378.7">0.05</text>
<text class="k" x="4247.7" y="2378.7">0.01</text>
<text class="k" x="4388" y="2378.7">0.06</text>
<text class="k" x="4528.3" y="2378.7">0.04</text>
<text class="k" x="4668.6" y="2378.7">-0.11</text>
<text class="k" x="4808.9" y="2378.7">0.01</text>
<text class="k" x="600.1" y="2494.9">-0.03</text>
<text class="k" x="740.4" y="2494.9">0.15</text>
<text class="k" x="880.7" y="2494.9">-0.01</text>
<text class="k" x="1021" y="2494.9">0.02</text>
<text class="k" x="1161.3" y="2494.9">-0.16</text>
<text class="k" x="1301.6" y="2494.9">-0.06</text>
<text class="k" x="1441.9" y="2494.9">-0.01</text>
<text class="k" x="1582.2" y="2494.9">-0.02</text>
<text class="k" x="1722.5" y="2494.9">-0.01</text>
<text class="k" x="1862.8" y="2494.9">-0.02</text>
<text class="k" x="2003" y="2494.9">-0.03</text>
<text class="k" x="2143.3" y="2494.9">-0.06</text>
<text class="k" x="2283.6" y="2494.9">-0.03</text>
<text class="k" x="2423.9" y="2494.9">-0.01</text>
<text class="k" x="2564.2" y="2494.9">-0.05</text>
<text class="k" x="2704.5" y="2494.9">-0.01</text>
<text class="k" x="2844.8" y="2494.9">-0.04</text>
<text class="k" x="2985.1" y="2494.9">-0.08</text>
<text class="k" x="3125.4" y="2494.9">-0.10</text>
<text class="k" x="3265.7" y="2494.9">-0.09</text>
<text class="w" x="3406" y="2494.9">1.00</text>
<text class="k" x="3546.2" y="2494.9">-0.01</text>
<text class="k" x="3686.5" y="2494.9">0.02</text>
<text class="k" x="3826.8" y="2494.9">0.04</text>
<text class="k" x="3967.1" y="2494.9">0.03</text>
<text class="k" x="4107.4" y="2494.9">-0.04</text>
<text class="k" x="4247.7" y="2494.9">-0.02</text>
<text class="k" x="4388" y="2494.9">-0.00</text>
<text class="k" x="4528.3" y="2494.9">0.01</text>
<text class="k" x="4668.6" y="2494.9">-0.02</text>
<text class="k" x="4808.9" y="2494.9">0.02</text>
<text class="k" x="600.1" y="2611.1">0.17</text>
<text class="k" x="740.4" y="2611.1">-0.13</text>
<text class="k" x="880.7" y="2611.1">-0.01</text>
<text class="k" x="1021" y="2611.1">-0.03</text>
<text class="k" x="1161.3" y="2611.1">0.04</text>
<text class="k" x="1301.6" y="2611.1">0.11</text>
<text class="k" x="1441.9" y="2611.1">-0.09</text>
<text class="k" x="1582.2" y="2611.1">-0.06</text>
<text class="k" x="1722.5" y="2611.1">0.04</text>
<text class="k" x="1862.8" y="2611.1">0.03</text>
<text class="k" x="2003" y="2611.1">0.02</text>
<text class="k" x="2143.3" y="2611.1">0.01</text>
<text class="k" x="2283.6" y="2611.1">-0.03</text>
<text class="k" x="2423.9" y="2611.1">-0.02</text>
<text class="k" x="2564.2" y="2611.1">0.01</text>
<text class="k" x="2704.5" y="2611.1">0.05</text>
<text class="k" x="2844.8" y="2611.1">0.05</text>
<text class="k" x="2985.1" y="2611.1">0.02</text>
<text class="k" x="3125.4" y="2611.1">0.14</text>
<text class="k" x="3265.7" y="2611.1">0.17</text>
<text class="k" x="3406" y="2611.1">-0.01</text>
<text class="w" x="3546.2" y="2611.1">1.00</text>
<text class="k" x="3686.5" y="2611.1">0.03</text>
<text class="k" x="3826.8" y="2611.1">-0.03</text>
<text class="k" x="3967.1" y="2611.1">-0.01</text>
<text class="k" x="4107.4" y="2611.1">0.00</text>
<text class="k" x="4247.7" y="2611.1">0.00</text>
<text class="k" x="4388" y="2611.1">0.10</text>
<text class="k" x="4528.3" y="2611.1">0.03</text>
<text class="k" x="4668.6" y="2611.1">-0.10</text>
<text class="k" x="4808.9" y="2611.1">-0.06</text>
<text class="k" x="600.1" y="2727.3">0.28</text>
<text class="k" x="740.4" y="2727.3">-0.18</text>
<text class="k" x="880.7" y="2727.3">0.11</text>
<text class="k" x="1021" y="2727.3">-0.18</text>
<text class="k" x="1161.3" y="2727.3">-0.15</text>
<text class="k" x="1301.6" y="2727.3">0.33</text>
<text class="k" x="1441.9" y="2727.3">0.07</text>
<text class="k" x="1582.2" y="2727.3">-0.00</text>
<text class="k" x="1722.5" y="2727.3">-0.05</text>
<text class="k" x="1862.8" y="2727.3">0.09</text>
<text class="k" x="2003" y="2727.3">0.14</text>
<text class="k" x="2143.3" y="2727.3">0.20</text>
<text class="k" x="2283.6" y="2727.3">0.24</text>
<text class="k" x="2423.9" y="2727.3">0.07</text>
<text class="k" x="2564.2" y="2727.3">0.21</text>
<text class="k" x="2704.5" y="2727.3">0.08</text>
<text class="k" x="2844.8" y="2727.3">0.08</text>
<text class="k" x="2985.1" y="2727.3">0.32</text>
<text class="k" x="3125.4" y="2727.3">0.07</text>
<text class="k" x="3265.7" y="2727.3">0.06</text>
<text class="k" x="3406" y="2727.3">0.02</text>
<text class="k" x="3546.2" y="2727.3">0.03</text>
<text class="w" x="3686.5" y="2727.3">1.00</text>
<text class="k" x="3826.8" y="2727.3">-0.16</text>
<text class="k" x="3967.1" y="2727.3">-0.09</text>
<text class="k" x="4107.4" y="2727.3">0.57</text>
<text class="k" x="4247.7" y="2727.3">0.10</text>
<text class="k" x="4388" y="2727.3">0.27</text>
<text class="w" x="4528.3" y="2727.3">0.88</text>
<text class="k" x="4668.6" y="2727.3">0.07</text>
<text class="k" x="4808.9" y="2727.3">-0.05</text>
<text class="k" x="600.1" y="2843.6">-0.11</text>
<text class="k" x="740.4" y="2843.6">0.22</text>
<text class="k" x="880.7" y="2843.6">0.02</text>
<text class="k" x="1021" y="2843.6">0.11</text>
<text class="k" x="1161.3" y="2843.6">-0.09</text>
<text class="k" x="1301.6" y="2843.6">-0.18</text>
<text class="k" x="1441.9" y="2843.6">-0.00</text>
<text class="k" x="1582.2" y="2843.6">0.04</text>
<text class="k" x="1722.5" y="2843.6">-0.07</text>
<text class="k" x="1862.8" y="2843.6">-0.03</text>
<text class="k" x="2003" y="2843.6">-0.17</text>
<text class="w" x="2143.3" y="2843.6">-0.24</text>
<text class="k" x="2283.6" y="2843.6">-0.16</text>
<text class="k" x="2423.9" y="2843.6">-0.06</text>
<text class="k" x="2564.2" y="2843.6">-0.17</text>
<text class="k" x="2704.5" y="2843.6">0.02</text>
<text class="k" x="2844.8" y="2843.6">-0.08</text>
<text class="w" x="2985.1" y="2843.6">-0.30</text>
<text class="k" x="3125.4" y="2843.6">-0.04</text>
<text class="k" x="3265.7" y="2843.6">-0.04</text>
<text class="k" x="3406" y="2843.6">0.04</text>
<text class="k" x="3546.2" y="2843.6">-0.03</text>
<text class="k" x="3686.5" y="2843.6">-0.16</text>
<text class="w" x="3826.8" y="2843.6">1.00</text>
<text class="w" x="3967.1" y="2843.6">0.84</text>
<text class="k" x="4107.4" y="2843.6">-0.14</text>
<text class="k" x="4247.7" y="2843.6">-0.09</text>
<text class="w" x="4388" y="2843.6">-0.25</text>
<text class="k" x="4528.3" y="2843.6">-0.18</text>
<text class="k" x="4668.6" y="2843.6">-0.01</text>
<text class="k" x="4808.9" y="2843.6">0.09</text>
<text class="k" x="600.1" y="2959.8">-0.07</text>
<text class="k" x="740.4" y="2959.8">0.18</text>
<text class="k" x="880.7" y="2959.8">-0.02</text>
<text class="k" x="1021" y="2959.8">0.09</text>
<text class="k" x="1161.3" y="2959.8">-0.06</text>
<text class="k" x="1301.6" y="2959.8">-0.13</text>
<text class="k" x="1441.9" y="2959.8">-0.04</text>
<text class="k" x="1582.2" y="2959.8">0.02</text>
<text class="k" x="1722.5" y="2959.8">-0.05</text>
<text class="k" x="1862.8" y="2959.8">-0.03</text>
<text class="k" x="2003" y="2959.8">-0.13</text>
<text class="k" x="2143.3" y="2959.8">-0.17</text>
<text class="k" x="2283.6" y="2959.8">-0.09</text>
<text class="k" x="2423.9" y="2959.8">-0.02</text>
<text class="k" x="2564.2" y="2959.8">-0.13</text>
<text class="k" x="2704.5" y="2959.8">0.02</text>
<text class="k" x="2844.8" y="2959.8">-0.07</text>
<text class="w" x="2985.1" y="2959.8">-0.21</text>
<text class="k" x="3125.4" y="2959.8">-0.04</text>
<text class="k" x="3265.7" y="2959.8">-0.04</text>
<text class="k" x="3406" y="2959.8">0.03</text>
<text class="k" x="3546.2" y="2959.8">-0.01</text>
<text class="k" x="3686.5" y="2959.8">-0.09</text>
<text class="w" x="3826.8" y="2959.8">0.84</text>
<text class="w" x="3967.1" y="2959.8">1.00</text>
<text class="k" x="4107.4" y="2959.8">-0.08</text>
<text class="k" x="4247.7" y="2959.8">-0.05</text>
<text class="k" x="4388" y="2959.8">-0.16</text>
<text class="k" x="4528.3" y="2959.8">-0.10</text>
<text class="k" x="4668.6" y="2959.8">-0.05</text>
<text class="k" x="4808.9" y="2959.8">0.08</text>
<text class="k" x="600.1" y="3076">0.20</text>
<text class="k" x="740.4" y="3076">-0.13</text>
<text class="k" x="880.7" y="3076">0.01</text>
<text class="k" x="1021" y="3076">-0.05</text>
<text class="k" x="1161.3" y="3076">0.17</text>
<text class="k" x="1301.6" y="3076">0.18</text>
<text class="k" x="1441.9" y="3076">-0.05</text>
<text class="k" x="1582.2" y="3076">0.00</text>
<text class="k" x="1722.5" y="3076">-0.02</text>
<text class="k" x="1862.8" y="3076">0.04</text>
<text class="k" x="2003" y="3076">0.11</text>
<text class="k" x="2143.3" y="3076">0.18</text>
<text class="k" x="2283.6" y="3076">0.20</text>
<text class="k" x="2423.9" y="3076">0.07</text>
<text class="k" x="2564.2" y="3076">0.14</text>
<text class="k" x="2704.5" y="3076">0.04</text>
<text class="k" x="2844.8" y="3076">0.05</text>
<text class="k" x="2985.1" y="3076">0.22</text>
<text class="k" x="3125.4" y="3076">0.06</text>
<text class="k" x="3265.7" y="3076">0.05</text>
<text class="k" x="3406" y="3076">-0.04</text>
<text class="k" x="3546.2" y="3076">0.00</text>
<text class="k" x="3686.5" y="3076">0.57</text>
<text class="k" x="3826.8" y="3076">-0.14</text>
<text class="k" x="3967.1" y="3076">-0.08</text>
<text class="w" x="4107.4" y="3076">1.00</text>
<text class="k" x="4247.7" y="3076">0.08</text>
<text class="k" x="4388" y="3076">0.23</text>
<text class="w" x="4528.3" y="3076">0.73</text>
<text class="k" x="4668.6" y="3076">-0.03</text>
<text class="k" x="4808.9" y="3076">-0.06</text>
<text class="k" x="600.1" y="3192.2">0.09</text>
<text class="k" x="740.4" y="3192.2">-0.06</text>
<text class="k" x="880.7" y="3192.2">-0.03</text>
<text class="k" x="1021" y="3192.2">-0.05</text>
<text class="k" x="1161.3" y="3192.2">0.00</text>
<text class="k" x="1301.6" y="3192.2">0.12</text>
<text class="k" x="1441.9" y="3192.2">0.13</text>
<text class="k" x="1582.2" y="3192.2">-0.01</text>
<text class="k" x="1722.5" y="3192.2">-0.09</text>
<text class="k" x="1862.8" y="3192.2">0.10</text>
<text class="w" x="2003" y="3192.2">0.64</text>
<text class="k" x="2143.3" y="3192.2">0.12</text>
<text class="k" x="2283.6" y="3192.2">0.07</text>
<text class="k" x="2423.9" y="3192.2">0.02</text>
<text class="k" x="2564.2" y="3192.2">0.00</text>
<text class="k" x="2704.5" y="3192.2">0.05</text>
<text class="k" x="2844.8" y="3192.2">-0.01</text>
<text class="k" x="2985.1" y="3192.2">0.10</text>
<text class="k" x="3125.4" y="3192.2">0.02</text>
<text class="k" x="3265.7" y="3192.2">0.01</text>
<text class="k" x="3406" y="3192.2">-0.02</text>
<text class="k" x="3546.2" y="3192.2">0.00</text>
<text class="k" x="3686.5" y="3192.2">0.10</text>
<text class="k" x="3826.8" y="3192.2">-0.09</text>
<text class="k" x="3967.1" y="3192.2">-0.05</text>
<text class="k" x="4107.4" y="3192.2">0.08</text>
<text class="w" x="4247.7" y="3192.2">1.00</text>
<text class="k" x="4388" y="3192.2">0.06</text>
<text class="k" x="4528.3" y="3192.2">0.12</text>
<text class="k" x="4668.6" y="3192.2">0.15</text>
<text class="k" x="4808.9" y="3192.2">-0.06</text>
<text class="k" x="600.1" y="3308.5">0.18</text>
<text class="w" x="740.4" y="3308.5">-0.21</text>
<text class="k" x="880.7" y="3308.5">0.02</text>
<text class="k" x="1021" y="3308.5">-0.13</text>
<text class="k" x="1161.3" y="3308.5">-0.10</text>
<text class="k" x="1301.6" y="3308.5">0.20</text>
<text class="k" x="1441.9" y="3308.5">-0.03</text>
<text class="k" x="1582.2" y="3308.5">-0.04</text>
<text class="k" x="1722.5" y="3308.5">0.03</text>
<text class="k" x="1862.8" y="3308.5">0.04</text>
<text class="k" x="2003" y="3308.5">0.14</text>
<text class="k" x="2143.3" y="3308.5">0.13</text>
<text class="k" x="2283.6" y="3308.5">0.09</text>
<text class="k" x="2423.9" y="3308.5">-0.03</text>
<text class="k" x="2564.2" y="3308.5">0.13</text>
<text class="k" x="2704.5" y="3308.5">0.04</text>
<text class="k" x="2844.8" y="3308.5">0.11</text>
<text class="k" x="2985.1" y="3308.5">0.18</text>
<text class="k" x="3125.4" y="3308.5">0.08</text>
<text class="k" x="3265.7" y="3308.5">0.06</text>
<text class="k" x="3406" y="3308.5">-0.00</text>
<text class="k" x="3546.2" y="3308.5">0.10</text>
<text class="k" x="3686.5" y="3308.5">0.27</text>
<text class="w" x="3826.8" y="3308.5">-0.25</text>
<text class="k" x="3967.1" y="3308.5">-0.16</text>
<text class="k" x="4107.4" y="3308.5">0.23</text>
<text class="k" x="4247.7" y="3308.5">0.06</text>
<text class="w" x="4388" y="3308.5">1.00</text>
<text class="k" x="4528.3" y="3308.5">0.30</text>
<text class="k" x="4668.6" y="3308.5">-0.04</text>
<text class="k" x="4808.9" y="3308.5">-0.13</text>
<text class="k" x="600.1" y="3424.7">0.29</text>
<text class="w" x="740.4" y="3424.7">-0.19</text>
<text class="k" x="880.7" y="3424.7">0.12</text>
<text class="k" x="1021" y="3424.7">-0.16</text>
<text class="k" x="1161.3" y="3424.7">-0.14</text>
<text class="k" x="1301.6" y="3424.7">0.29</text>
<text class="k" x="1441.9" y="3424.7">0.06</text>
<text class="k" x="1582.2" y="3424.7">0.01</text>
<text class="k" x="1722.5" y="3424.7">-0.06</text>
<text class="k" x="1862.8" y="3424.7">0.07</text>
<text class="k" x="2003" y="3424.7">0.16</text>
<text class="k" x="2143.3" y="3424.7">0.19</text>
<text class="k" x="2283.6" y="3424.7">0.27</text>
<text class="k" x="2423.9" y="3424.7">0.08</text>
<text class="k" x="2564.2" y="3424.7">0.19</text>
<text class="k" x="2704.5" y="3424.7">0.07</text>
<text class="k" x="2844.8" y="3424.7">0.08</text>
<text class="k" x="2985.1" y="3424.7">0.31</text>
<text class="k" x="3125.4" y="3424.7">0.05</text>
<text class="k" x="3265.7" y="3424.7">0.04</text>
<text class="k" x="3406" y="3424.7">0.01</text>
<text class="k" x="3546.2" y="3424.7">0.03</text>
<text class="w" x="3686.5" y="3424.7">0.88</text>
<text class="k" x="3826.8" y="3424.7">-0.18</text>
<text class="k" x="3967.1" y="3424.7">-0.10</text>
<text class="w" x="4107.4" y="3424.7">0.73</text>
<text class="k" x="4247.7" y="3424.7">0.12</text>
<text class="k" x="4388" y="3424.7">0.30</text>
<text class="w" x="4528.3" y="3424.7">1.00</text>
<text class="k" x="4668.6" y="3424.7">0.06</text>
<text class="k" x="4808.9" y="3424.7">-0.07</text>
<text class="k" x="600.1" y="3540.9">-0.13</text>
<text class="k" x="740.4" y="3540.9">0.01</text>
<text class="k" x="880.7" y="3540.9">0.05</text>
<text class="k" x="1021" y="3540.9">0.02</text>
<text class="w" x="1161.3" y="3540.9">-0.26</text>
<text class="k" x="1301.6" y="3540.9">-0.09</text>
<text class="w" x="1441.9" y="3540.9">0.89</text>
<text class="k" x="1582.2" y="3540.9">0.29</text>
<text class="w" x="1722.5" y="3540.9">-0.39</text>
<text class="k" x="1862.8" y="3540.9">0.13</text>
<text class="k" x="2003" y="3540.9">0.21</text>
<text class="k" x="2143.3" y="3540.9">0.00</text>
<text class="k" x="2283.6" y="3540.9">-0.00</text>
<text class="k" x="2423.9" y="3540.9">-0.01</text>
<text class="k" x="2564.2" y="3540.9">-0.01</text>
<text class="k" x="2704.5" y="3540.9">-0.05</text>
<text class="k" x="2844.8" y="3540.9">-0.03</text>
<text class="k" x="2985.1" y="3540.9">0.01</text>
<text class="k" x="3125.4" y="3540.9">-0.11</text>
<text class="k" x="3265.7" y="3540.9">-0.11</text>
<text class="k" x="3406" y="3540.9">-0.02</text>
<text class="k" x="3546.2" y="3540.9">-0.10</text>
<text class="k" x="3686.5" y="3540.9">0.07</text>
<text class="k" x="3826.8" y="3540.9">-0.01</text>
<text class="k" x="3967.1" y="3540.9">-0.05</text>
<text class="k" x="4107.4" y="3540.9">-0.03</text>
<text class="k" x="4247.7" y="3540.9">0.15</text>
<text class="k" x="4388" y="3540.9">-0.04</text>
<text class="k" x="4528.3" y="3540.9">0.06</text>
<text class="w" x="4668.6" y="3540.9">1.00</text>
<text class="k" x="4808.9" y="3540.9">0.03</text>
<text class="k" x="600.1" y="3657.1">-0.12</text>
<text class="k" x="740.4" y="3657.1">0.36</text>
<text class="k" x="880.7" y="3657.1">-0.03</text>
<text class="k" x="1021" y="3657.1">0.02</text>
<text class="k" x="1161.3" y="3657.1">-0.07</text>
<text class="k" x="1301.6" y="3657.1">-0.10</text>
<text class="k" x="1441.9" y="3657.1">0.02</text>
<text class="k" x="1582.2" y="3657.1">0.07</text>
<text class="k" x="1722.5" y="3657.1">-0.09</text>
<text class="k" x="1862.8" y="3657.1">0.03</text>
<text class="k" x="2003" y="3657.1">-0.04</text>
<text class="k" x="2143.3" y="3657.1">-0.07</text>
<text class="k" x="2283.6" y="3657.1">-0.06</text>
<text class="k" x="2423.9" y="3657.1">0.01</text>
<text class="k" x="2564.2" y="3657.1">-0.06</text>
<text class="k" x="2704.5" y="3657.1">0.01</text>
<text class="k" x="2844.8" y="3657.1">-0.02</text>
<text class="k" x="2985.1" y="3657.1">-0.09</text>
<text class="k" x="3125.4" y="3657.1">0.01</text>
<text class="k" x="3265.7" y="3657.1">0.01</text>
<text class="k" x="3406" y="3657.1">0.02</text>
<text class="k" x="3546.2" y="3657.1">-0.06</text>
<text class="k" x="3686.5" y="3657.1">-0.05</text>
<text class="k" x="3826.8" y="3657.1">0.09</text>
<text class="k" x="3967.1" y="3657.1">0.08</text>
<text class="k" x="4107.4" y="3657.1">-0.06</text>
<text class="k" x="4247.7" y="3657.1">-0.06</text>
<text class="k" x="4388" y="3657.1">-0.13</text>
<text class="k" x="4528.3" y="3657.1">-0.07</text>
<text class="k" x="4668.6" y="3657.1">0.03</text>
<text class="w" x="4808.9" y="3657.1">1.00</text>
</g>
<g class="k" font-size="43.5" text-anchor="end" stroke-width="2" filter="url(#bl2)">
<line x1="514" x2="530" y1="155.1" y2="155.1" stroke-width="4"/>
<text x="500" y="170.8">Status</text>
<line x1="514" x2="530" y1="271.3" y2="271.3" stroke-width="4"/>
<text x="500" y="287">Follow-Up Days</text>
<line x1="514" x2="530" y1="387.6" y2="387.6" stroke-width="4"/>
<text x="500" y="403.2">Marital Status</text>
<line x1="514" x2="530" y1="503.8" y2="503.8" stroke-width="4"/>
<text x="500" y="519.5">Occupation</text>
<line x1="514" x2="530" y1="620" y2="620" stroke-width="4"/>
<text x="500" y="635.7">Sex</text>
<line x1="514" x2="530" y1="736.2" y2="736.2" stroke-width="4"/>
<text x="500" y="751.9">Age</text>
<line x1="514" x2="530" y1="852.5" y2="852.5" stroke-width="4"/>
<text x="500" y="868.1">BMI</text>
<line x1="514" x2="530" y1="968.7" y2="968.7" stroke-width="4"/>
<text x="500" y="984.4">AHI</text>
<line x1="514" x2="530" y1="1084.9" y2="1084.9" stroke-width="4"/>
<text x="500" y="1100.6">SaO<tspan font-size="30.4" dy="9">2</tspan><tspan dy="-9"> min</tspan></text>
<line x1="514" x2="530" y1="1201.1" y2="1201.1" stroke-width="4"/>
<text x="500" y="1216.8">Hypertension</text>
<line x1="514" x2="530" y1="1317.4" y2="1317.4" stroke-width="4"/>
<text x="500" y="1333">Diabetes</text>
<line x1="514" x2="530" y1="1433.6" y2="1433.6" stroke-width="4"/>
<text x="500" y="1449.3">CAD</text>
<line x1="514" x2="530" y1="1549.8" y2="1549.8" stroke-width="4"/>
<text x="488" y="1565.5">Heart failure</text>
<line x1="514" x2="530" y1="1666" y2="1666" stroke-width="4"/>
<text x="500" y="1681.7">Dilated Cardiomyopathy</text>
<line x1="514" x2="530" y1="1782.3" y2="1782.3" stroke-width="4"/>
<text x="500" y="1797.9">Atrial Fibrillation</text>
<line x1="514" x2="530" y1="1898.5" y2="1898.5" stroke-width="4"/>
<text x="500" y="1888.9">Previous Cardiovascular</text>
<text x="485" y="1939.4">Events</text>
<line x1="514" x2="530" y1="2014.7" y2="2014.7" stroke-width="4"/>
<text x="500" y="2030.4">Valvular Heart Disease</text>
<line x1="514" x2="530" y1="2131" y2="2131" stroke-width="4"/>
<text x="500" y="2146.6">Cardiovascular Disease</text>
<line x1="514" x2="530" y1="2247.2" y2="2247.2" stroke-width="4"/>
<text x="500" y="2262.8">COPD</text>
<line x1="514" x2="530" y1="2363.4" y2="2363.4" stroke-width="4"/>
<text x="500" y="2379.1">GOLD</text>
<line x1="514" x2="530" y1="2479.6" y2="2479.6" stroke-width="4"/>
<text x="500" y="2495.3">Asthma</text>
<line x1="514" x2="530" y1="2595.9" y2="2595.9" stroke-width="4"/>
<text x="500" y="2611.5">Malignancy</text>
<line x1="514" x2="530" y1="2712.1" y2="2712.1" stroke-width="4"/>
<text x="500" y="2727.7">Renal Dysfunction</text>
<line x1="514" x2="530" y1="2828.3" y2="2828.3" stroke-width="4"/>
<text x="500" y="2844">Cholesterol</text>
<line x1="514" x2="530" y1="2944.5" y2="2944.5" stroke-width="4"/>
<text x="500" y="2960.2">Category of Cholesterol</text>
<line x1="514" x2="530" y1="3060.8" y2="3060.8" stroke-width="4"/>
<text x="500" y="3076.4">Creatinine</text>
<line x1="514" x2="530" y1="3177" y2="3177" stroke-width="4"/>
<text x="488" y="3192.6">Glycemia</text>
<line x1="514" x2="530" y1="3293.2" y2="3293.2" stroke-width="4"/>
<text x="483" y="3308.9">Anemia</text>
<line x1="514" x2="530" y1="3409.4" y2="3409.4" stroke-width="4"/>
<text x="482" y="3425.1">GFR Categories</text>
<line x1="514" x2="530" y1="3525.7" y2="3525.7" stroke-width="4"/>
<text x="482" y="3541.3">BMI Categories</text>
<line x1="514" x2="530" y1="3641.9" y2="3641.9" stroke-width="4"/>
<text x="493" y="3657.5">Years of CPAP</text>
</g>
<g class="k" font-size="43.5" text-anchor="end" stroke-width="2" filter="url(#bl2)">
<line x1="600.1" x2="600.1" y1="3700" y2="3716" stroke-width="4"/>
<text transform="translate(615.8,3735.5) rotate(-90)" x="0">Status</text>
<line x1="740.4" x2="740.4" y1="3700" y2="3716" stroke-width="4"/>
<text transform="translate(756.1,3735.5) rotate(-90)" x="0">Follow-Up Days</text>
<line x1="880.7" x2="880.7" y1="3700" y2="3716" stroke-width="4"/>
<text transform="translate(896.4,3735.5) rotate(-90)" x="0">Marital Status</text>
<line x1="1021" x2="1021" y1="3700" y2="3716" stroke-width="4"/>
<text transform="translate(1036.7,3735.5) rotate(-90)" x="0">Occupation</text>
<line x1="1161.3" x2="1161.3" y1="3700" y2="3716" stroke-width="4"/>
<text transform="translate(1177,3735.5) rotate(-90)" x="0">Sex</text>
<line x1="1301.6" x2="1301.6" y1="3700" y2="3716" stroke-width="4"/>
<text transform="translate(1317.3,3735.5) rotate(-90)" x="0">Age</text>
<line x1="1441.9" x2="1441.9" y1="3700" y2="3716" stroke-width="4"/>
<text transform="translate(1457.5,3735.5) rotate(-90)" x="0">BMI</text>
<line x1="1582.2" x2="1582.2" y1="3700" y2="3716" stroke-width="4"/>
<text transform="translate(1597.8,3735.5) rotate(-90)" x="0">AHI</text>
<line x1="1722.5" x2="1722.5" y1="3700" y2="3716" stroke-width="4"/>
<text transform="translate(1738.1,3735.5) rotate(-90)" x="0">SaO<tspan font-size="30.4" dy="9">2</tspan><tspan dy="-9"> min</tspan></text>
<line x1="1862.8" x2="1862.8" y1="3700" y2="3716" stroke-width="4"/>
<text transform="translate(1878.4,3735.5) rotate(-90)" x="0">Hypertension</text>
<line x1="2003" x2="2003" y1="3700" y2="3716" stroke-width="4"/>
<text transform="translate(2018.7,3735.5) rotate(-90)" x="0">Diabetes</text>
<line x1="2143.3" x2="2143.3" y1="3700" y2="3716" stroke-width="4"/>
<text transform="translate(2159,3735.5) rotate(-90)" x="0">CAD</text>
<line x1="2283.6" x2="2283.6" y1="3700" y2="3716" stroke-width="4"/>
<text transform="translate(2299.3,3735.5) rotate(-90)" x="-12">Heart failure</text>
<line x1="2423.9" x2="2423.9" y1="3700" y2="3716" stroke-width="4"/>
<text transform="translate(2439.6,3735.5) rotate(-90)" x="0">Dilated Cardiomyopathy</text>
<line x1="2564.2" x2="2564.2" y1="3700" y2="3716" stroke-width="4"/>
<text transform="translate(2579.9,3735.5) rotate(-90)" x="0">Atrial Fibrillation</text>
<line x1="2704.5" x2="2704.5" y1="3700" y2="3716" stroke-width="4"/>
<text transform="translate(2694.9,3735.5) rotate(-90)">Previous Cardiovascular</text>
<text transform="translate(2745.4,3735.5) rotate(-90)" x="-15">Events</text>
<line x1="2844.8" x2="2844.8" y1="3700" y2="3716" stroke-width="4"/>
<text transform="translate(2860.5,3735.5) rotate(-90)" x="0">Valvular Heart Disease</text>
<line x1="2985.1" x2="2985.1" y1="3700" y2="3716" stroke-width="4"/>
<text transform="translate(3000.7,3735.5) rotate(-90)" x="0">Cardiovascular Disease</text>
<line x1="3125.4" x2="3125.4" y1="3700" y2="3716" stroke-width="4"/>
<text transform="translate(3141,3735.5) rotate(-90)" x="0">COPD</text>
<line x1="3265.7" x2="3265.7" y1="3700" y2="3716" stroke-width="4"/>
<text transform="translate(3281.3,3735.5) rotate(-90)" x="0">GOLD</text>
<line x1="3406" x2="3406" y1="3700" y2="3716" stroke-width="4"/>
<text transform="translate(3421.6,3735.5) rotate(-90)" x="0">Asthma</text>
<line x1="3546.2" x2="3546.2" y1="3700" y2="3716" stroke-width="4"/>
<text transform="translate(3561.9,3735.5) rotate(-90)" x="0">Malignancy</text>
<line x1="3686.5" x2="3686.5" y1="3700" y2="3716" stroke-width="4"/>
<text transform="translate(3702.2,3735.5) rotate(-90)" x="0">Renal Dysfunction</text>
<line x1="3826.8" x2="3826.8" y1="3700" y2="3716" stroke-width="4"/>
<text transform="translate(3842.5,3735.5) rotate(-90)" x="0">Cholesterol</text>
<line x1="3967.1" x2="3967.1" y1="3700" y2="3716" stroke-width="4"/>
<text transform="translate(3982.8,3735.5) rotate(-90)" x="0">Category of Cholesterol</text>
<line x1="4107.4" x2="4107.4" y1="3700" y2="3716" stroke-width="4"/>
<text transform="translate(4123.1,3735.5) rotate(-90)" x="0">Creatinine</text>
<line x1="4247.7" x2="4247.7" y1="3700" y2="3716" stroke-width="4"/>
<text transform="translate(4263.4,3735.5) rotate(-90)" x="-12">Glycemia</text>
<line x1="4388" x2="4388" y1="3700" y2="3716" stroke-width="4"/>
<text transform="translate(4403.6,3735.5) rotate(-90)" x="-17">Anemia</text>
<line x1="4528.3" x2="4528.3" y1="3700" y2="3716" stroke-width="4"/>
<text transform="translate(4543.9,3735.5) rotate(-90)" x="-18">GFR Categories</text>
<line x1="4668.6" x2="4668.6" y1="3700" y2="3716" stroke-width="4"/>
<text transform="translate(4684.2,3735.5) rotate(-90)" x="-18">BMI Categories</text>
<line x1="4808.9" x2="4808.9" y1="3700" y2="3716" stroke-width="4"/>
<text transform="translate(4824.5,3735.5) rotate(-90)" x="-7">Years of CPAP</text>
</g>
<defs><linearGradient id="cb" x1="0" y1="1" x2="0" y2="0">
<stop offset="0.0000" stop-color="#384bcd"/>
<stop offset="0.0156" stop-color="#3c52d3"/>
<stop offset="0.0312" stop-color="#4059d9"/>
<stop offset="0.0469" stop-color="#4560df"/>
<stop offset="0.0625" stop-color="#4a67e4"/>
<stop offset="0.0781" stop-color="#4f6ee9"/>
<stop offset="0.0938" stop-color="#5475ee"/>
<stop offset="0.1094" stop-color="#597bf2"/>
<stop offset="0.1250" stop-color="#5e82f6"/>
<stop offset="0.1406" stop-color="#6388fa"/>
<stop offset="0.1562" stop-color="#688efd"/>
<stop offset="0.1719" stop-color="#6e94ff"/>
<stop offset="0.1875" stop-color="#739aff"/>
<stop offset="0.2031" stop-color="#79a0ff"/>
<stop offset="0.2188" stop-color="#7ea6ff"/>
<stop offset="0.2344" stop-color="#84abff"/>
<stop offset="0.2500" stop-color="#89b0ff"/>
<stop offset="0.2656" stop-color="#8fb5ff"/>
<stop offset="0.2812" stop-color="#95baff"/>
<stop offset="0.2969" stop-color="#9abeff"/>
<stop offset="0.3125" stop-color="#a0c2ff"/>
<stop offset="0.3281" stop-color="#a6c6ff"/>
<stop offset="0.3438" stop-color="#abcaff"/>
<stop offset="0.3594" stop-color="#b1cdff"/>
<stop offset="0.3750" stop-color="#b6d0fe"/>
<stop offset="0.3906" stop-color="#bbd3fb"/>
<stop offset="0.4062" stop-color="#c1d5f8"/>
<stop offset="0.4219" stop-color="#c6d7f4"/>
<stop offset="0.4375" stop-color="#cbd9f0"/>
<stop offset="0.4531" stop-color="#d0daeb"/>
<stop offset="0.4688" stop-color="#d4dce7"/>
<stop offset="0.4844" stop-color="#d9dce1"/>
<stop offset="0.5000" stop-color="#dddcdc"/>
<stop offset="0.5156" stop-color="#e2dad6"/>
<stop offset="0.5312" stop-color="#e7d8cf"/>
<stop offset="0.5469" stop-color="#ebd5c9"/>
<stop offset="0.5625" stop-color="#eed2c2"/>
<stop offset="0.5781" stop-color="#f1cebc"/>
<stop offset="0.5938" stop-color="#f5cbb5"/>
<stop offset="0.6094" stop-color="#f7c6ae"/>
<stop offset="0.6250" stop-color="#f9c2a8"/>
<stop offset="0.6406" stop-color="#fbbda1"/>
<stop offset="0.6562" stop-color="#fcb99a"/>
<stop offset="0.6719" stop-color="#fdb394"/>
<stop offset="0.6875" stop-color="#feae8d"/>
<stop offset="0.7031" stop-color="#fea886"/>
<stop offset="0.7188" stop-color="#fea280"/>
<stop offset="0.7344" stop-color="#fd9c7a"/>
<stop offset="0.7500" stop-color="#fc9673"/>
<stop offset="0.7656" stop-color="#fb8f6d"/>
<stop offset="0.7812" stop-color="#f98867"/>
<stop offset="0.7969" stop-color="#f78161"/>
<stop offset="0.8125" stop-color="#f57a5b"/>
<stop offset="0.8281" stop-color="#f27255"/>
<stop offset="0.8438" stop-color="#ef6b50"/>
<stop offset="0.8594" stop-color="#eb634a"/>
<stop offset="0.8750" stop-color="#e85a45"/>
<stop offset="0.8906" stop-color="#e35240"/>
<stop offset="0.9062" stop-color="#df493b"/>
<stop offset="0.9219" stop-color="#da4036"/>
<stop offset="0.9375" stop-color="#d63632"/>
<stop offset="0.9531" stop-color="#d02b2d"/>
<stop offset="0.9688" stop-color="#cb1e29"/>
<stop offset="0.9844" stop-color="#c60b26"/>
<stop offset="1.0000" stop-color="#c20024"/>
</linearGradient></defs>
<rect x="5152" y="97" width="184" height="3603" fill="url(#cb)"/>
<g class="k" font-size="41" stroke-width="2" filter="url(#bl2)">
<line x1="5336" x2="5349" y1="97" y2="97" stroke-width="4"/>
<text x="5365" y="111.8">1.0</text>
<line x1="5336" x2="5349" y1="561.9" y2="561.9" stroke-width="4"/>
<text x="5365" y="576.7">0.8</text>
<line x1="5336" x2="5349" y1="1026.8" y2="1026.8" stroke-width="4"/>
<text x="5365" y="1041.6">0.6</text>
<line x1="5336" x2="5349" y1="1491.7" y2="1491.7" stroke-width="4"/>
<text x="5365" y="1506.5">0.4</text>
<line x1="5336" x2="5349" y1="1956.6" y2="1956.6" stroke-width="4"/>
<text x="5365" y="1971.4">0.2</text>
<line x1="5336" x2="5349" y1="2421.5" y2="2421.5" stroke-width="4"/>
<text x="5365" y="2436.3">0.0</text>
<line x1="5336" x2="5349" y1="2886.4" y2="2886.4" stroke-width="4"/>
<text x="5365" y="2901.2">−0.2</text>
<line x1="5336" x2="5349" y1="3351.3" y2="3351.3" stroke-width="4"/>
<text x="5365" y="3366.1">−0.4</text>
</g>
</svg></body></html>
